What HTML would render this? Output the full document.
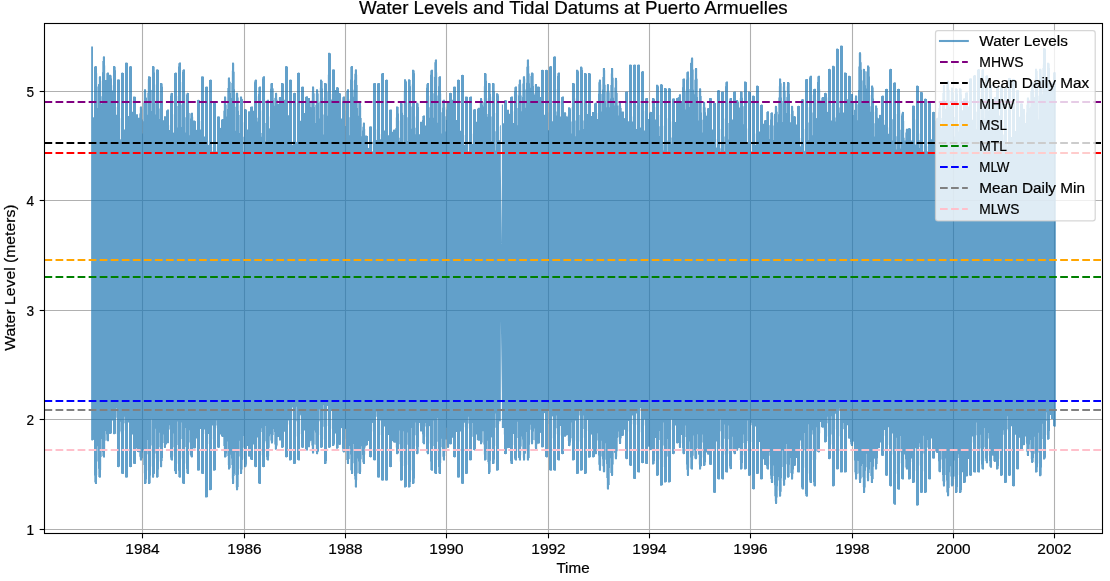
<!DOCTYPE html>
<html lang="en"><head><meta charset="utf-8"><title>Water Levels and Tidal Datums at Puerto Armuelles</title>
<style>
html,body{margin:0;padding:0;background:#fff;overflow:hidden}
svg{display:block;will-change:transform}
text{font-family:"Liberation Sans",sans-serif;fill:#000;stroke:#000;stroke-width:0.2px}
.t{font-size:14.75px}
.ti{font-size:17.7px}
</style></head>
<body>
<svg width="1110" height="581" viewBox="0 0 1110 581">
<rect x="0" y="0" width="1110" height="581" fill="#ffffff"/>
<g stroke="#b0b0b0" stroke-width="1.11" fill="none">
<line x1="142.5" y1="23.5" x2="142.5" y2="533.5"/><line x1="244.5" y1="23.5" x2="244.5" y2="533.5"/><line x1="345.5" y1="23.5" x2="345.5" y2="533.5"/><line x1="446.5" y1="23.5" x2="446.5" y2="533.5"/><line x1="548.5" y1="23.5" x2="548.5" y2="533.5"/><line x1="649.5" y1="23.5" x2="649.5" y2="533.5"/><line x1="750.5" y1="23.5" x2="750.5" y2="533.5"/><line x1="852.5" y1="23.5" x2="852.5" y2="533.5"/><line x1="953.5" y1="23.5" x2="953.5" y2="533.5"/><line x1="1054.5" y1="23.5" x2="1054.5" y2="533.5"/><line x1="44.5" y1="529.5" x2="1102.5" y2="529.5"/><line x1="44.5" y1="419.5" x2="1102.5" y2="419.5"/><line x1="44.5" y1="310.5" x2="1102.5" y2="310.5"/><line x1="44.5" y1="200.5" x2="1102.5" y2="200.5"/><line x1="44.5" y1="91.5" x2="1102.5" y2="91.5"/>
</g>
<g opacity="0.7" fill="#1f77b4" stroke="none">
<path fill-rule="nonzero" d="M91.13,46.6 93,46.6 93,117.0 93.17,117.0 93.17,117.2 93.69,117.2 93.69,117.4 94,117.4 94,66.4 94.17,66.4 94.17,66.6 94.69,66.6 94.69,66.8 95,66.8 95,66.1 96,66.1 96,66.1 96.17,66.1 96.17,66.2 96.69,66.2 96.69,66.3 97,66.3 97,73.2 97.17,73.2 97.17,86.6 97.69,86.6 97.69,108.0 98,108.0 98,76.9 98.17,76.9 98.17,83.9 98.69,83.9 98.69,84.2 99,84.2 99,76.2 101,76.3 101,80.7 101.17,80.7 101.17,96.2 101.69,96.2 101.69,103.9 102,103.9 102,57.1 102.17,57.1 102.17,61.0 102.69,61.0 102.69,72.3 103,72.3 103,56.3 105,56.4 105,65.6 105.17,65.6 105.17,80.0 105.69,80.0 105.69,80.1 106,80.1 106,73.1 106.17,73.1 106.17,73.3 106.69,73.3 106.69,80.0 107,80.0 107,72.6 108.69,72.6 108.69,72.7 109,72.7 109,74.8 109.69,74.8 109.69,74.9 110,74.9 110,74.8 111,74.8 111,75.2 111.17,75.2 111.17,75.5 111.69,75.5 111.69,78.6 112,78.6 112,85.2 112.17,85.2 112.17,90.5 113,90.5 113,66.1 113.69,66.1 113.69,66.2 114,66.2 114,66.1 115,66.1 115,66.6 115.17,66.6 115.17,66.8 115.69,66.8 115.69,70.2 116,70.2 116,106.9 116.17,106.9 116.17,114.8 117,114.8 117,79.4 117.17,79.4 117.17,79.5 117.69,79.5 117.69,79.6 118,79.6 118,79.3 119,79.3 119,79.5 119.17,79.5 119.17,79.6 119.69,79.6 119.69,79.7 120,79.7 120,118.3 120.17,118.3 120.17,139.1 120.69,139.1 120.69,140.3 121,140.3 121,72.7 121.17,72.7 121.17,72.8 121.69,72.8 121.69,72.9 122,72.9 122,72.6 123,72.6 123,72.8 123.17,72.8 123.17,72.9 123.69,72.9 123.69,73.1 124,73.1 124,129.5 125,129.6 125,62.6 125.17,62.6 125.17,62.7 125.69,62.7 125.69,62.8 126,62.8 126,62.5 127,62.5 127,62.7 127.17,62.7 127.17,62.8 127.69,62.8 127.69,62.9 128,62.9 128,115.9 129,115.9 129,66.3 129.17,66.3 129.17,66.4 129.69,66.4 129.69,66.6 130,66.6 130,66.1 131,66.1 131,66.2 131.17,66.2 131.17,66.3 131.69,66.3 131.69,66.4 132,66.4 132,111.7 133,111.7 133,96.6 133.17,96.6 133.17,96.6 133.69,96.6 133.69,96.7 134,96.7 134,96.4 135,96.4 135,96.6 135.17,96.6 135.17,96.7 135.69,96.7 135.69,96.9 136,96.9 136,114.2 138,114.3 138,117.7 139,117.7 139,107.1 139.17,107.1 139.17,113.6 139.69,113.6 139.69,117.8 140,117.8 140,106.4 142,106.4 142,109.6 142.17,109.6 142.17,119.4 142.69,119.4 142.69,133.4 143,133.4 143,91.7 143.17,91.7 143.17,102.8 143.69,102.8 143.69,121.2 144,121.2 144,89.2 145,89.3 145,89.2 146,89.2 146,90.0 146.17,90.0 146.17,97.5 146.69,97.5 146.69,97.8 147,97.8 147,79.1 147.17,79.1 147.17,92.7 147.69,92.7 147.69,114.7 148,114.7 148,76.2 148.69,76.3 148.69,76.3 149,76.3 149,76.2 150,76.2 150,76.6 150.17,76.6 150.17,76.7 150.69,76.7 150.69,77.0 151,77.0 151,89.7 151.17,89.7 151.17,90.0 151.69,90.0 151.69,111.0 152,111.0 152,66.1 152.69,66.1 152.69,66.2 153,66.2 153,66.1 154,66.1 154,66.6 154.17,66.6 154.17,66.8 154.69,66.8 154.69,72.4 155,72.4 155,84.4 155.17,84.4 155.17,103.3 155.69,103.3 155.69,114.5 156,114.5 156,69.4 156.17,69.4 156.17,69.5 156.69,69.5 156.69,69.5 157,69.5 157,69.3 158,69.3 158,69.6 158.17,69.6 158.17,69.8 158.69,69.8 158.69,70.1 159,70.1 159,92.2 159.17,92.2 159.17,108.6 159.69,108.6 159.69,119.1 160,119.1 160,82.9 160.69,82.9 160.69,83.0 161,83.0 161,82.9 162,82.9 162,83.4 162.17,83.4 162.17,83.6 162.69,83.6 162.69,86.8 163,86.8 163,120.3 164,120.3 164,116.2 164.69,116.2 164.69,116.3 165,116.3 165,116.2 166,116.2 166,109.9 166.17,109.9 166.17,110.2 166.69,110.2 166.69,110.7 167,110.7 167,109.4 168.69,109.5 168.69,109.6 169,109.6 169,125.2 169.17,125.2 169.17,130.1 170,130.1 170,93.3 170.17,93.3 170.17,93.6 170.69,93.6 170.69,95.8 171,95.8 171,92.8 172.69,92.9 172.69,92.9 173,92.9 173,114.2 173.17,114.2 173.17,132.5 173.69,132.5 173.69,132.8 174,132.8 174,72.9 174.17,72.9 174.17,73.1 174.69,73.1 174.69,73.3 175,73.3 175,72.6 176,72.6 176,72.6 176.17,72.6 176.17,72.7 176.69,72.7 176.69,72.8 177,72.8 177,96.0 177.17,96.0 177.17,106.1 177.69,106.1 177.69,127.6 178,127.6 178,62.9 178.17,62.9 178.17,63.2 178.69,63.2 178.69,66.5 179,66.5 179,62.5 180.69,62.5 180.69,62.6 181,62.6 181,81.9 181.17,81.9 181.17,104.4 181.69,104.4 181.69,127.1 182,127.1 182,69.8 182.17,69.8 182.17,70.1 182.69,70.1 182.69,71.7 183,71.7 183,69.3 184.69,69.4 184.69,69.5 185,69.5 185,93.3 185.17,93.3 185.17,117.3 185.69,117.3 185.69,132.4 186,132.4 186,93.3 186.17,93.3 186.17,93.6 186.69,93.6 186.69,94.8 187,94.8 187,92.8 188.69,92.9 188.69,92.9 189,92.9 189,112.8 189.17,112.8 189.17,113.1 189.69,113.1 189.69,135.2 190,135.2 190,113.2 190.17,113.2 190.17,113.4 190.69,113.4 190.69,118.5 191,118.5 191,112.7 192.69,112.8 192.69,112.8 193,112.8 193,116.7 193.17,116.7 193.17,120.5 193.69,120.5 193.69,120.6 194,120.6 194,120.4 195,120.5 195,120.8 195.17,120.8 195.17,120.9 195.69,120.9 195.69,121.2 196,121.2 196,129.8 197,129.9 197,99.8 197.17,99.8 197.17,99.9 197.69,99.9 197.69,100.0 198,100.0 198,99.7 199,99.7 199,99.9 199.17,99.9 199.17,100.0 199.69,100.0 199.69,100.2 200,100.2 200,121.1 200.17,121.1 200.17,129.4 201,129.4 201,76.3 201.17,76.3 201.17,76.4 201.69,76.4 201.69,76.5 202,76.5 202,76.2 203,76.2 203,76.4 203.17,76.4 203.17,76.5 203.69,76.5 203.69,76.7 204,76.7 204,136.5 205,136.5 205,86.7 205.17,86.7 205.17,86.8 205.69,86.8 205.69,87.0 206,87.0 206,86.5 207,86.5 207,86.6 207.17,86.6 207.17,86.7 207.69,86.7 207.69,86.8 208,86.8 208,140.5 208.17,140.5 208.17,145.0 209,145.0 209,79.8 209.17,79.8 209.17,79.9 209.69,79.9 209.69,80.1 210,80.1 210,79.6 211,79.6 211,79.8 211.17,79.8 211.17,79.8 211.69,79.8 211.69,79.9 212,79.9 212,147.1 212.17,147.1 212.17,151.5 213,151.5 213,102.9 213.17,102.9 213.17,103.0 213.69,103.0 213.69,103.1 214,103.1 214,102.8 215,102.8 215,103.0 215.17,103.0 215.17,103.1 215.69,103.1 215.69,103.2 216,103.2 216,145.5 216.17,145.5 216.17,151.5 217,151.5 217,116.4 217.17,116.4 217.17,116.5 217.69,116.5 217.69,116.6 218,116.6 218,116.3 219,116.3 219,116.5 219.17,116.5 219.17,116.6 219.69,116.6 219.69,116.8 220,116.8 220,127.8 221,127.9 221,119.3 221.17,119.3 221.17,119.4 221.69,119.4 221.69,119.7 222,119.7 222,119.0 223,119.0 223,100.7 223.17,100.7 223.17,110.7 223.69,110.7 223.69,119.0 224,119.0 224,96.4 225,96.5 225,96.4 226,96.5 226,97.2 226.17,97.2 226.17,104.7 226.69,104.7 226.69,116.4 227,116.4 227,78.2 227.17,78.2 227.17,88.0 227.69,88.0 227.69,109.1 228,109.1 228,77.5 230,77.5 230,81.5 230.17,81.5 230.17,81.8 230.69,81.8 230.69,93.1 231,93.1 231,70.7 231.17,70.7 231.17,83.0 231.69,83.0 231.69,98.1 232,98.1 232,62.6 233,62.7 233,62.6 234,62.7 234,63.4 234.17,63.4 234.17,71.8 234.69,71.8 234.69,89.3 235,89.3 235,93.6 235.17,93.6 235.17,106.7 235.69,106.7 235.69,130.8 236,130.8 236,92.8 238,92.8 238,93.6 238.17,93.6 238.17,97.4 238.69,97.4 238.69,110.8 239,110.8 239,105.2 239.17,105.2 239.17,114.9 239.69,114.9 239.69,133.1 240,133.1 240,96.4 241,96.5 241,96.4 242,96.5 242,97.2 242.17,97.2 242.17,98.9 242.69,98.9 242.69,99.2 243,99.2 243,122.3 243.17,122.3 243.17,136.7 243.69,136.7 243.69,151.5 244,151.5 244,109.1 244.17,109.1 244.17,109.2 244.69,109.2 244.69,109.3 245,109.3 245,109.1 246,109.1 246,109.4 246.17,109.4 246.17,109.6 246.69,109.6 246.69,109.8 247,109.8 247,129.4 248,129.4 248,111.3 248.17,111.3 248.17,111.3 248.69,111.3 248.69,111.4 249,111.4 249,111.2 250,111.2 250,106.7 250.17,106.7 250.17,106.8 250.69,106.8 250.69,107.1 251,107.1 251,106.4 252,106.4 252,106.4 252.17,106.4 252.17,106.5 252.69,106.5 252.69,106.6 253,106.6 253,110.8 254,110.8 254,80.1 254.17,80.1 254.17,80.4 254.69,80.4 254.69,82.2 255,82.2 255,79.6 256.69,79.7 256.69,79.8 257,79.8 257,96.2 257.17,96.2 257.17,117.8 257.69,117.8 257.69,121.4 258,121.4 258,87.0 258.17,87.0 258.17,87.2 258.69,87.2 258.69,93.9 259,93.9 259,86.5 260.69,86.6 260.69,86.6 261,86.6 261,110.4 261.17,110.4 261.17,132.9 261.69,132.9 261.69,136.7 262,136.7 262,76.7 262.17,76.7 262.17,76.9 262.69,76.9 262.69,78.6 263,78.6 263,76.2 264.69,76.3 264.69,76.3 265,76.3 265,103.0 265.17,103.0 265.17,122.9 265.69,122.9 265.69,141.6 266,141.6 266,100.2 266.17,100.2 266.17,100.4 266.69,100.4 266.69,101.5 267,101.5 267,99.7 268.69,99.7 268.69,99.8 269,99.8 269,116.6 269.17,116.6 269.17,128.3 269.69,128.3 269.69,128.6 270,128.6 270,83.4 270.17,83.4 270.17,83.6 270.69,83.6 270.69,88.7 271,88.7 271,82.9 272.69,82.9 272.69,83.0 273,83.0 273,88.1 273.17,88.1 273.17,88.4 273.69,88.4 273.69,100.3 274,100.3 274,97.6 274.17,97.6 274.17,97.9 274.69,97.9 274.69,105.7 275,105.7 275,92.8 276,92.9 276,92.8 277,92.8 277,93.6 277.17,93.6 277.17,99.8 277.69,99.8 277.69,104.1 278,104.1 278,97.7 278.17,97.7 278.17,104.0 279,104.0 279,97.0 281,97.1 281,82.9 281.17,82.9 281.17,83.0 281.69,83.0 281.69,83.1 282,83.1 282,82.9 283,82.9 283,83.2 283.17,83.2 283.17,83.4 283.69,83.4 283.69,83.6 284,83.6 284,99.7 285,99.8 285,66.1 285.17,66.1 285.17,66.2 285.69,66.2 285.69,66.3 286,66.3 286,66.1 287,66.1 287,66.4 287.17,66.4 287.17,66.6 287.69,66.6 287.69,66.8 288,66.8 288,115.2 288.69,115.3 288.69,115.3 289,115.3 289,79.7 289.17,79.7 289.17,79.8 289.69,79.8 289.69,79.9 290,79.9 290,79.6 291,79.6 291,79.8 291.17,79.8 291.17,79.8 291.69,79.8 291.69,79.9 292,79.9 292,141.0 292.17,141.0 292.17,144.9 293,144.9 293,93.0 293.17,93.0 293.17,93.1 293.69,93.1 293.69,93.3 294,93.3 294,92.8 295,92.8 295,92.9 295.17,92.9 295.17,93.0 295.69,93.0 295.69,93.1 296,93.1 296,140.6 296.17,140.6 296.17,141.9 297,141.9 297,72.8 297.17,72.8 297.17,72.9 297.69,72.9 297.69,73.1 298,73.1 298,72.6 299,72.6 299,72.7 299.17,72.7 299.17,72.8 299.69,72.8 299.69,72.9 300,72.9 300,120.7 301,120.8 301,86.7 301.17,86.7 301.17,86.8 301.69,86.8 301.69,87.0 302,87.0 302,86.5 303,86.5 303,86.6 303.17,86.6 303.17,86.7 303.69,86.7 303.69,86.8 304,86.8 304,112.9 305,113.0 305,96.5 305.17,96.5 305.17,96.7 305.69,96.7 305.69,96.9 306,96.9 306,96.2 307,96.2 307,96.3 307.17,96.3 307.17,96.3 307.69,96.3 307.69,96.4 308,96.4 308,97.9 310,98.0 310,100.1 310.17,100.1 310.17,101.2 310.69,101.2 310.69,107.1 311,107.1 311,92.2 311.17,92.2 311.17,100.4 311.69,100.4 311.69,107.2 312,107.2 312,86.5 313,86.6 313,86.5 314,86.5 314,87.2 314.17,87.2 314.17,93.2 314.69,93.2 314.69,106.9 315,106.9 315,93.5 315.17,93.5 315.17,104.9 315.69,104.9 315.69,122.9 316,122.9 316,89.2 317,89.3 317,89.2 318,89.2 318,90.0 318.17,90.0 318.17,93.5 318.69,93.5 318.69,103.1 319,103.1 319,87.8 319.17,87.8 319.17,101.4 319.69,101.4 319.69,118.6 320,118.6 320,79.6 321,79.7 321,79.6 322,79.7 322,80.4 322.17,80.4 322.17,81.0 322.69,81.0 322.69,88.6 323,88.6 323,97.6 323.17,97.6 323.17,114.4 323.69,114.4 323.69,134.6 324,134.6 324,82.9 324.17,82.9 324.17,83.0 324.69,83.0 324.69,83.1 325,83.1 325,82.9 326,82.9 326,83.2 326.17,83.2 326.17,83.4 326.69,83.4 326.69,83.6 327,83.6 327,74.8 327.17,74.8 327.17,91.9 327.69,91.9 327.69,115.7 328,115.7 328,52.8 328.17,52.8 328.17,52.8 328.69,52.8 328.69,52.9 329,52.9 329,52.7 330,52.7 330,53.0 330.17,53.0 330.17,53.2 330.69,53.2 330.69,53.5 331,53.5 331,93.9 331.17,93.9 331.17,99.5 332,99.5 332,69.5 332.17,69.5 332.17,69.5 332.69,69.5 332.69,69.6 333,69.6 333,69.3 334,69.3 334,69.5 334.17,69.5 334.17,69.6 334.69,69.6 334.69,69.8 335,69.8 335,90.0 336,90.0 336,87.2 336.17,87.2 336.17,87.2 336.69,87.2 336.69,87.3 337,87.3 337,87.1 338,87.1 338,87.4 338.17,87.4 338.17,87.6 338.69,87.6 338.69,87.9 339,87.9 339,93.1 340,93.1 340,93.2 340.17,93.2 340.17,93.3 340.69,93.3 340.69,93.4 341,93.4 341,118.6 342,118.6 342,96.9 342.17,96.9 342.17,97.2 342.69,97.2 342.69,102.1 343,102.1 343,96.4 344.69,96.5 344.69,96.6 345,96.6 345,110.5 345.17,110.5 345.17,125.9 345.69,125.9 345.69,143.3 346,143.3 346,90.0 346.17,90.0 346.17,90.9 346.69,90.9 346.69,101.7 347,101.7 347,89.2 349,89.3 349,99.0 349.17,99.0 349.17,117.2 349.69,117.2 349.69,135.2 350,135.2 350,66.6 350.17,66.6 350.17,66.8 350.69,66.8 350.69,79.5 351,79.5 351,66.1 352.69,66.1 352.69,66.2 353,66.2 353,80.8 353.17,80.8 353.17,89.7 353.69,89.7 353.69,96.7 354,96.7 354,70.1 354.17,70.1 354.17,73.7 354.69,73.7 354.69,79.7 355,79.7 355,69.3 357,69.4 357,74.7 357.17,74.7 357.17,85.0 357.69,85.0 357.69,107.9 358,107.9 358,101.7 358.17,101.7 358.17,102.0 358.69,102.0 358.69,115.7 359,115.7 359,100.9 361,101.0 361,105.8 361.17,105.8 361.17,118.0 361.69,118.0 361.69,136.3 362,136.3 362,123.4 362.17,123.4 362.17,126.7 362.69,126.7 362.69,130.4 363,130.4 363,122.6 365,122.7 365,128.9 365.17,128.9 365.17,135.4 365.69,135.4 365.69,135.5 366,135.5 366,135.4 367,135.4 367,135.7 367.17,135.7 367.17,135.9 367.69,135.9 367.69,136.1 368,136.1 368,147.9 369,147.9 369,126.4 369.17,126.4 369.17,126.6 369.69,126.6 369.69,126.7 370,126.7 370,126.2 371,126.2 371,126.4 371.17,126.4 371.17,126.4 371.69,126.4 371.69,126.6 372,126.6 372,141.2 372.17,141.2 372.17,151.5 373,151.5 373,83.1 373.17,83.1 373.17,83.2 373.69,83.2 373.69,83.4 374,83.4 374,82.9 375,82.9 375,83.0 375.17,83.0 375.17,83.1 375.69,83.1 375.69,83.2 376,83.2 376,129.6 376.17,129.6 376.17,140.0 377,140.0 377,83.1 377.17,83.1 377.17,83.2 377.69,83.2 377.69,83.4 378,83.4 378,82.9 379,82.9 379,83.0 379.17,83.0 379.17,83.1 379.69,83.1 379.69,83.2 380,83.2 380,134.3 380.17,134.3 380.17,139.2 381,139.2 381,73.3 381.17,73.3 381.17,73.4 381.69,73.4 381.69,73.7 382,73.7 382,72.9 383,72.9 383,73.0 383.17,73.0 383.17,73.1 383.69,73.1 383.69,73.1 384,73.1 384,130.4 385,130.4 385,79.8 385.17,79.8 385.17,79.9 385.69,79.9 385.69,80.1 386,80.1 386,79.6 387,79.6 387,79.8 387.17,79.8 387.17,79.8 387.69,79.8 387.69,79.9 388,79.9 388,135.3 389,135.3 389,109.6 389.17,109.6 389.17,109.8 389.69,109.8 389.69,109.9 390,109.9 390,109.4 391,109.4 391,109.6 391.17,109.6 391.17,109.6 391.69,109.6 391.69,109.8 392,109.8 392,131.7 393,131.7 393,129.6 393.17,129.6 393.17,129.7 393.69,129.7 393.69,129.8 394,129.8 394,129.4 395,129.4 395,117.4 395.17,117.4 395.17,128.0 395.69,128.0 395.69,129.5 396,129.5 396,106.4 396.69,106.4 396.69,106.5 397,106.5 397,106.4 398,106.4 398,106.8 398.17,106.8 398.17,107.1 398.69,107.1 398.69,113.6 399,113.6 399,120.4 399.17,120.4 399.17,137.7 399.69,137.7 399.69,141.0 400,141.0 400,102.8 400.69,102.8 400.69,102.9 401,102.9 401,102.8 402,102.8 402,103.2 402.17,103.2 402.17,103.5 402.69,103.5 402.69,112.8 403,112.8 403,91.5 403.17,91.5 403.17,115.0 403.69,115.0 403.69,143.9 404,143.9 404,79.3 405,79.3 405,79.3 406,79.3 406,80.0 406.17,80.0 406.17,81.3 406.69,81.3 406.69,81.5 407,81.5 407,102.2 407.17,102.2 407.17,117.3 407.69,117.3 407.69,141.1 408,141.1 408,79.3 408.69,79.3 408.69,79.4 409,79.4 409,79.3 410,79.3 410,79.7 410.17,79.7 410.17,80.0 410.69,80.0 410.69,86.3 411,86.3 411,84.6 411.17,84.6 411.17,106.6 411.69,106.6 411.69,128.8 412,128.8 412,69.7 412.69,69.8 412.69,69.8 413,69.8 413,69.7 414,69.7 414,70.2 414.17,70.2 414.17,70.4 414.69,70.4 414.69,73.3 415,73.3 415,116.6 415.17,116.6 415.17,127.7 415.69,127.7 415.69,134.2 416,134.2 416,102.8 416.69,102.8 416.69,102.9 417,102.9 417,102.8 418,102.8 418,103.2 418.17,103.2 418.17,103.5 418.69,103.5 418.69,107.0 419,107.0 419,134.2 420,134.2 420,121.7 420.17,121.7 420.17,121.8 420.69,121.8 420.69,121.9 421,121.9 421,121.7 422,121.7 422,115.9 422.17,115.9 422.17,116.1 422.69,116.1 422.69,120.1 423,120.1 423,115.4 424.69,115.5 424.69,115.5 425,115.5 425,125.4 426,125.4 426,83.6 426.17,83.6 426.17,84.3 426.69,84.3 426.69,87.8 427,87.8 427,82.9 429,82.9 429,95.7 429.17,95.7 429.17,107.3 429.69,107.3 429.69,117.8 430,117.8 430,70.2 430.17,70.2 430.17,70.4 430.69,70.4 430.69,74.8 431,74.8 431,69.7 432.69,69.8 432.69,69.8 433,69.8 433,76.5 433.17,76.5 433.17,93.2 433.69,93.2 433.69,117.7 434,117.7 434,60.1 434.17,60.1 434.17,62.3 434.69,62.3 434.69,77.0 435,77.0 435,59.4 437,59.5 437,72.5 437.17,72.5 437.17,95.4 437.69,95.4 437.69,122.8 438,122.8 438,76.7 438.17,76.7 438.17,76.9 438.69,76.9 438.69,86.2 439,86.2 439,76.2 440.69,76.3 440.69,76.3 441,76.3 441,93.6 441.17,93.6 441.17,112.2 441.69,112.2 441.69,133.4 442,133.4 442,100.2 442.17,100.2 442.17,100.4 442.69,100.4 442.69,107.7 443,107.7 443,99.7 444.69,99.7 444.69,99.8 445,99.8 445,107.3 445.17,107.3 445.17,116.3 445.69,116.3 445.69,131.4 446,131.4 446,106.6 446.17,106.6 446.17,109.6 446.69,109.6 446.69,119.9 447,119.9 447,101.6 448,101.6 448,101.6 449,101.6 449,92.9 449.17,92.9 449.17,93.0 449.69,93.0 449.69,93.1 450,93.1 450,92.8 451,92.8 451,93.0 451.17,93.0 451.17,93.1 451.69,93.1 451.69,93.3 452,93.3 452,99.8 453,99.8 453,86.7 453.17,86.7 453.17,86.8 453.69,86.8 453.69,86.8 454,86.8 454,86.5 455,86.5 455,86.6 455.17,86.6 455.17,86.7 455.69,86.7 455.69,86.8 456,86.8 456,120.0 457,120.0 457,79.8 457.17,79.8 457.17,79.8 457.69,79.8 457.69,79.9 458,79.9 458,79.6 459,79.6 459,79.8 459.17,79.8 459.17,79.9 459.69,79.9 459.69,80.1 460,80.1 460,130.8 461,130.8 461,74.9 461.17,74.9 461.17,75.0 461.69,75.0 461.69,75.1 462,75.1 462,74.7 463,74.8 463,75.0 463.17,75.0 463.17,75.1 463.69,75.1 463.69,75.2 464,75.2 464,134.9 464.17,134.9 464.17,145.1 465,145.1 465,96.6 465.17,96.6 465.17,96.6 465.69,96.6 465.69,96.7 466,96.7 466,96.4 467,96.4 467,96.6 467.17,96.6 467.17,96.7 467.69,96.7 467.69,96.9 468,96.9 468,141.3 468.17,141.3 468.17,151.5 469,151.5 469,96.7 469.17,96.7 469.17,96.9 469.69,96.9 469.69,97.2 470,97.2 470,96.4 471,96.4 471,96.5 471.17,96.5 471.17,96.6 471.69,96.6 471.69,96.6 472,96.6 472,133.8 472.17,133.8 472.17,143.9 473,143.9 473,109.4 473.17,109.4 473.17,109.6 473.69,109.6 473.69,109.8 474,109.8 474,109.1 475,109.1 475,109.1 475.17,109.1 475.17,109.2 475.69,109.2 475.69,109.3 476,109.3 476,121.7 477,121.7 477,108.2 477.17,108.2 477.17,108.5 477.69,108.5 477.69,109.1 478,109.1 478,107.7 479,107.8 479,102.4 479.17,102.4 479.17,107.8 480,107.8 480,98.1 481,98.2 481,98.1 482,98.1 482,98.9 482.17,98.9 482.17,101.1 482.69,101.1 482.69,104.8 483,104.8 483,86.3 483.17,86.3 483.17,102.2 483.69,102.2 483.69,106.5 484,106.5 484,73.0 484.69,73.0 484.69,73.1 485,73.1 485,72.9 486,72.9 486,73.4 486.17,73.4 486.17,73.7 486.69,73.7 486.69,80.7 487,80.7 487,98.2 487.17,98.2 487.17,114.0 487.69,114.0 487.69,116.7 488,116.7 488,82.9 488.69,82.9 488.69,83.0 489,83.0 489,82.9 490,82.9 490,83.4 490.17,83.4 490.17,83.6 490.69,83.6 490.69,93.9 491,93.9 491,96.8 491.17,96.8 491.17,116.5 491.69,116.5 491.69,141.1 492,141.1 492,82.9 492.69,82.9 492.69,83.0 493,83.0 493,82.9 494,82.9 494,83.4 494.17,83.4 494.17,83.6 494.69,83.6 494.69,91.6 495,91.6 495,113.0 495.17,113.0 495.17,131.2 495.69,131.2 495.69,150.6 496,150.6 496,93.2 496.69,93.2 496.69,93.3 497,93.3 497,93.2 498,93.2 498,93.7 498.17,93.7 498.17,93.9 498.69,93.9 498.69,95.6 499,95.6 499,126.4 499.17,126.4 499.17,140.3 500,140.3 500,125.2 500.84,125.2 500.84,421.2 499.17,421.2 499.17,423.9 499,423.9 499,470.1 498.69,470.1 498.69,470.3 498.17,470.3 498.17,470.5 498,470.5 498,470.8 497,470.8 497,470.6 496.69,470.6 496.69,470.7 496.17,470.7 496.17,470.8 496,470.8 496,413.4 495.69,413.4 495.69,427.8 495.17,427.8 495.17,445.9 495,445.9 495,459.4 494.69,459.4 494.69,463.4 494.17,463.4 494.17,463.7 494,463.7 494,464.1 493,464.1 493,464.0 492.69,464.0 492.69,464.1 492,464.1 492,437.3 491.69,437.3 491.69,437.6 491.17,437.6 491.17,451.9 491,451.9 491,460.8 490.69,460.8 490.69,472.2 490.17,472.2 490.17,473.3 490,473.3 490,474.0 489,474.1 489,474.0 488,474.1 488,440.7 487.69,440.7 487.69,462.1 487.17,462.1 487.17,464.1 487,464.1 487,451.6 486.69,451.6 486.69,459.8 486.17,459.8 486.17,460.0 486,460.0 486,460.5 485,460.5 485,460.4 484.69,460.4 484.69,460.5 484,460.5 484,431.3 483.69,431.3 483.69,444.4 483.17,444.4 483.17,454.5 483,454.5 483,431.3 482.69,431.3 482.69,442.4 482.17,442.4 482.17,443.5 482,443.5 482,444.2 481,444.3 481,444.2 480,444.3 480,440.7 479.69,440.7 479.69,440.7 479.17,440.7 479.17,440.8 478,440.8 478,440.0 477.69,440.0 477.69,440.3 477.17,440.3 477.17,440.5 477,440.5 477,434.4 476.17,434.4 476.17,440.3 476,440.3 476,450.4 475.69,450.4 475.69,450.5 475.17,450.5 475.17,450.5 475,450.5 475,450.6 474,450.6 474,449.8 473.69,449.8 473.69,450.1 473.17,450.1 473.17,450.3 473,450.3 473,422.9 472.69,422.9 472.69,436.7 472.17,436.7 472.17,437.0 472,437.0 472,460.0 471.69,460.0 471.69,460.2 471.17,460.2 471.17,460.3 471,460.3 471,460.5 470,460.5 470,460.2 469.69,460.2 469.69,460.3 469.17,460.3 469.17,460.4 469,460.4 469,416.7 468.69,416.7 468.69,423.4 468.17,423.4 468.17,428.6 468,428.6 468,473.6 467.69,473.6 467.69,473.8 467.17,473.8 467.17,473.9 467,473.9 467,474.1 466,474.1 466,473.8 465.69,473.8 465.69,473.9 465.17,473.9 465.17,473.9 465,473.9 465,422.7 464.17,422.7 464.17,427.3 464,427.3 464,483.7 463.69,483.7 463.69,483.8 463.17,483.8 463.17,483.9 463,483.9 463,484.0 462,484.0 462,483.5 461.69,483.5 461.69,483.7 461.17,483.7 461.17,483.8 461,483.8 461,431.5 460,431.6 460,477.2 459.69,477.2 459.69,477.4 459.17,477.4 459.17,477.5 459,477.5 459,477.7 458,477.7 458,477.4 457.69,477.4 457.69,477.5 457.17,477.5 457.17,477.6 457,477.6 457,432.0 456,432.0 456,457.1 455.69,457.1 455.69,457.2 455.17,457.2 455.17,457.3 455,457.3 455,457.4 454,457.5 454,457.0 453.69,457.0 453.69,457.1 453.17,457.1 453.17,457.2 453,457.2 453,437.8 452,437.8 452,444.1 451.69,444.1 451.69,444.2 451.17,444.2 451.17,444.3 451,444.3 451,444.4 450,444.5 450,444.1 449.69,444.1 449.69,444.2 449.17,444.2 449.17,447.1 449,447.1 449,447.8 448,447.9 448,447.8 447,447.9 447,427.7 446.69,427.7 446.69,439.6 446.17,439.6 446.17,445.4 446,445.4 446,439.5 445.69,439.5 445.69,451.5 445.17,451.5 445.17,456.1 445,456.1 445,460.5 444,460.5 443,460.5 443,449.8 442.69,449.8 442.69,456.7 442.17,456.7 442.17,459.8 442,459.8 442,438.7 441.69,438.7 441.69,447.2 441.17,447.2 441.17,463.1 441,463.1 441,473.9 440.69,473.9 440.69,474.0 439.69,474.1 439,474.1 439,467.1 438.69,467.1 438.69,473.3 438.17,473.3 438.17,473.6 438,473.6 438,418.0 437.69,418.0 437.69,441.8 437.17,441.8 437.17,460.0 437,460.0 437,474.0 436,474.1 435,474.1 435,473.1 434.69,473.1 434.69,473.4 434.17,473.4 434.17,473.6 434,473.6 434,420.4 433.69,420.4 433.69,445.9 433.17,445.9 433.17,450.7 433,450.7 433,470.7 432.69,470.7 432.69,470.8 431.69,470.8 431,470.8 431,461.4 430.69,461.4 430.69,470.1 430.17,470.1 430.17,470.3 430,470.3 430,425.9 429.69,425.9 429.69,426.2 429.17,426.2 429.17,443.4 429,443.4 429,454.1 428,454.2 427,454.2 427,449.0 426.69,449.0 426.69,452.8 426.17,452.8 426.17,453.5 426,453.5 426,422.9 425.69,422.9 425.69,426.4 425.17,426.4 425.17,436.7 425,436.7 425,444.2 424,444.3 423,444.3 423,434.2 422.69,434.2 422.69,442.9 422.17,442.9 422.17,443.5 422,443.5 422,431.4 421,431.4 421,431.3 420.69,431.3 420.69,431.4 420,431.4 420,423.1 419.17,423.1 419.17,425.5 419,425.5 419,447.0 418.69,447.0 418.69,453.5 418.17,453.5 418.17,453.7 418,453.7 418,454.2 417,454.2 417,454.1 416.69,454.1 416.69,454.1 416,454.2 416,422.4 415.69,422.4 415.69,435.2 415.17,435.2 415.17,446.3 415,446.3 415,478.5 414.69,478.5 414.69,483.3 414.17,483.3 414.17,483.5 414,483.5 414,484.0 413,484.0 413,483.9 412.69,483.9 412.69,483.9 412,484.0 412,427.9 411.69,427.9 411.69,451.6 411.17,451.6 411.17,470.3 411,470.3 411,481.9 410.69,481.9 410.69,486.9 410.17,486.9 410.17,487.1 410,487.1 410,487.6 409,487.6 409,487.5 408.69,487.5 408.69,487.6 408,487.6 408,432.5 407.69,432.5 407.69,444.8 407.17,444.8 407.17,464.7 407,464.7 407,486.7 406.69,486.7 406.69,487.0 406.17,487.0 406.17,487.1 406,487.1 406,487.6 405,487.6 405,487.5 404.69,487.5 404.69,487.6 404,487.6 404,431.3 403.69,431.3 403.69,448.5 403.17,448.5 403.17,466.1 403,466.1 403,480.0 402.69,480.0 402.69,480.3 402.17,480.3 402.17,480.4 402,480.4 402,480.8 401,480.8 401,480.6 400.69,480.6 400.69,480.6 400.17,480.6 400.17,480.7 400,480.7 400,430.4 399.69,430.4 399.69,444.2 399.17,444.2 399.17,461.5 399,461.5 399,453.3 398.69,453.3 398.69,453.5 398.17,453.5 398.17,453.7 398,453.7 398,454.2 397,454.2 397,454.1 396,454.2 396,442.7 395.69,442.7 395.69,442.8 395.17,442.8 395.17,447.4 395,447.4 395,442.8 394,442.8 394,442.1 393.69,442.1 393.69,442.4 393.17,442.4 393.17,442.5 393,442.5 393,441.1 392,441.2 392,466.9 391.69,466.9 391.69,467.0 391.17,467.0 391.17,467.1 391,467.1 391,467.2 390,467.2 390,466.7 389.69,466.7 389.69,466.9 389.17,466.9 389.17,467.0 389,467.0 389,435.0 388,435.0 388,480.3 387.69,480.3 387.69,480.4 387.17,480.4 387.17,480.6 387,480.6 387,480.8 386,480.8 386,480.4 385.69,480.4 385.69,480.6 385.17,480.6 385.17,480.6 385,480.6 385,426.4 384,426.4 384,480.4 383.69,480.4 383.69,480.6 383.17,480.6 383.17,480.6 383,480.6 383,480.8 382,480.8 382,480.3 381.69,480.3 381.69,480.4 381.17,480.4 381.17,480.6 381,480.6 381,420.4 380.17,420.5 380.17,435.0 380,435.0 380,477.4 379.69,477.4 379.69,477.5 379.17,477.5 379.17,477.6 379,477.6 379,477.7 378,477.7 378,477.2 377.69,477.2 377.69,477.4 377.17,477.4 377.17,477.5 377,477.5 377,411.5 376.69,411.5 376.69,416.7 376.17,416.7 376.17,417.0 376,417.0 376,460.2 375.69,460.2 375.69,460.3 375.17,460.3 375.17,460.4 375,460.4 375,460.5 374,460.5 374,460.0 373.69,460.0 373.69,460.2 373.17,460.2 373.17,460.3 373,460.3 373,422.7 372.69,422.7 372.69,423.0 372.17,423.0 372.17,431.6 372,431.6 372,457.1 371.69,457.1 371.69,457.2 371.17,457.2 371.17,457.3 371,457.3 371,457.4 370,457.5 370,457.0 369.69,457.0 369.69,457.1 369.17,457.1 369.17,457.2 369,457.2 369,441.0 368.69,441.0 368.69,441.0 368,441.1 368,445.1 367.69,445.1 367.69,445.3 367.17,445.3 367.17,445.5 367,445.5 367,445.8 366,445.8 366,445.7 365.69,445.7 365.69,447.6 365.17,447.6 365.17,454.5 365,454.5 365,464.1 364,464.1 363,464.1 363,454.9 362.69,454.9 362.69,462.2 362.17,462.2 362.17,463.4 362,463.4 362,446.2 361.69,446.2 361.69,459.3 361.17,459.3 361.17,471.7 361,471.7 361,473.9 360.69,473.9 360.69,474.0 359.69,474.1 359,474.1 359,461.6 358.69,461.6 358.69,473.3 358.17,473.3 358.17,473.6 358,473.6 358,458.5 357.69,458.5 357.69,473.5 357.17,473.5 357.17,480.2 357,480.2 357,487.6 356,487.6 355,487.6 355,476.1 354.69,476.1 354.69,479.4 354.17,479.4 354.17,486.9 354,486.9 354,444.1 353.69,444.1 353.69,463.2 353.17,463.2 353.17,473.3 353,473.3 353,474.0 352,474.1 352,474.0 351,474.1 351,454.6 350.69,454.6 350.69,470.3 350.17,470.3 350.17,470.6 350,470.6 350,445.9 349.69,445.9 349.69,459.0 349.17,459.0 349.17,459.2 349,459.2 349,464.1 348,464.1 347,464.1 347,451.3 346.69,451.3 346.69,460.1 346.17,460.1 346.17,463.4 346,463.4 346,428.8 345.69,428.8 345.69,429.1 345.17,429.1 345.17,438.7 345,438.7 345,452.3 344.69,452.3 344.69,452.3 343.69,452.4 343,452.4 343,448.5 342.69,448.5 342.69,451.6 342.17,451.6 342.17,451.9 342,451.9 342,428.1 341,428.2 341,444.7 340.69,444.7 340.69,444.7 340.17,444.7 340.17,444.8 340,444.8 340,444.9 339,444.9 339,444.6 338.69,444.6 338.69,448.0 338.17,448.0 338.17,448.3 338,448.3 338,448.8 337,448.8 337,448.7 336.69,448.7 336.69,448.7 336,448.8 336,433.4 335.17,433.4 335.17,433.8 335,433.8 335,443.7 334.69,443.7 334.69,445.3 334.17,445.3 334.17,445.6 334,445.6 334,446.1 333,446.1 333,445.9 332.69,445.9 332.69,446.0 332,446.0 332,411.0 331.17,411.0 331.17,428.8 331,428.8 331,447.1 330.69,447.1 330.69,447.4 330.17,447.4 330.17,447.6 330,447.6 330,447.9 329,447.9 329,447.7 328.69,447.7 328.69,447.7 328.17,447.7 328.17,447.8 328,447.8 328,406.1 327.17,406.1 327.17,426.1 327,426.1 327,461.1 326.69,461.1 326.69,463.4 326.17,463.4 326.17,463.7 326,463.7 326,464.1 325,464.1 325,464.0 324.69,464.0 324.69,464.1 324,464.1 324,405.0 323.69,405.0 323.69,426.7 323.17,426.7 323.17,439.5 323,439.5 323,447.1 322.69,447.1 322.69,447.4 322.17,447.4 322.17,447.6 322,447.6 322,447.9 321,447.9 321,447.7 320.69,447.7 320.69,447.7 320.17,447.7 320.17,447.8 320,447.8 320,409.5 319.69,409.5 319.69,421.3 319.17,421.3 319.17,435.0 319,435.0 319,451.5 318.69,451.5 318.69,451.8 318.17,451.8 318.17,453.5 318,453.5 318,454.2 317,454.2 317,454.1 316,454.2 316,432.5 315.69,432.5 315.69,444.8 315.17,444.8 315.17,451.9 315,451.9 315,430.6 314.69,430.6 314.69,444.5 314.17,444.5 314.17,452.7 314,452.7 314,453.4 313,453.5 313,453.4 312,453.5 312,440.8 311.69,440.8 311.69,445.6 311.17,445.6 311.17,451.5 311,451.5 311,440.8 310.69,440.8 310.69,441.2 310.17,441.2 310.17,442.9 310,442.9 310,447.2 309,447.3 308,447.3 308,450.4 307.69,450.4 307.69,450.5 307.17,450.5 307.17,450.5 307,450.5 307,450.6 306,450.6 306,449.8 305.69,449.8 305.69,450.1 305.17,450.1 305.17,450.3 305,450.3 305,430.5 304,430.6 304,447.6 303.69,447.6 303.69,447.7 303.17,447.7 303.17,447.7 303,447.7 303,447.9 302,447.9 302,447.4 301.69,447.4 301.69,447.6 301.17,447.6 301.17,447.7 301,447.7 301,414.7 300.69,414.7 300.69,415.4 300.17,415.4 300.17,434.1 300,434.1 300,460.3 299.69,460.3 299.69,460.4 299.17,460.4 299.17,460.5 299,460.5 299,460.5 298,460.5 298,459.8 297.69,459.8 297.69,460.0 297.17,460.0 297.17,460.2 297,460.2 297,406.8 296.69,406.8 296.69,421.3 296.17,421.3 296.17,436.4 296,436.4 296,463.7 295.69,463.7 295.69,463.8 295.17,463.8 295.17,463.9 295,463.9 295,464.1 294,464.1 294,463.8 293.69,463.8 293.69,463.9 293.17,463.9 293.17,464.0 293,464.0 293,407.4 292.17,407.4 292.17,420.3 292,420.3 292,459.8 291.69,459.8 291.69,460.0 291.17,460.0 291.17,460.2 291,460.2 291,460.5 290,460.5 290,460.3 289.69,460.3 289.69,460.4 289.17,460.4 289.17,460.5 289,460.5 289,420.5 288.17,420.6 288.17,424.4 288,424.4 288,457.0 287.69,457.0 287.69,457.1 287.17,457.1 287.17,457.2 287,457.2 287,457.4 286,457.5 286,457.1 285.69,457.1 285.69,457.2 285.17,457.2 285.17,457.3 285,457.3 285,431.7 284,431.7 284,447.1 283.69,447.1 283.69,447.4 283.17,447.4 283.17,447.6 283,447.6 283,447.9 282,447.9 282,447.7 281.69,447.7 281.69,447.7 281.17,447.7 281.17,447.8 281,447.8 281,440.5 280,440.5 280,440.4 279,440.5 279,437.0 278,437.0 278,436.9 277.69,436.9 277.69,445.5 277.17,445.5 277.17,446.8 277,446.8 277,449.6 276,449.7 275,449.7 275,431.9 274.69,431.9 274.69,444.4 274.17,444.4 274.17,448.9 274,448.9 274,429.0 273.69,429.0 273.69,434.9 273.17,434.9 273.17,441.7 273,441.7 273,443.3 272,443.4 271,443.4 271,434.3 270.69,434.3 270.69,440.5 270.17,440.5 270.17,442.6 270,442.6 270,436.3 269.69,436.3 269.69,447.8 269.17,447.8 269.17,456.2 269,456.2 269,460.4 268.69,460.4 268.69,460.5 267.69,460.5 267,460.5 267,457.1 266.69,457.1 266.69,459.8 266.17,459.8 266.17,460.0 266,460.0 266,425.9 265.69,425.9 265.69,441.3 265.17,441.3 265.17,443.3 265,443.3 265,466.9 264.69,466.9 264.69,467.0 264.17,467.0 264.17,467.1 264,467.1 264,467.2 263,467.2 263,466.7 262.69,466.7 262.69,466.9 262.17,466.9 262.17,467.0 262,467.0 262,428.2 261.69,428.2 261.69,432.0 261.17,432.0 261.17,455.3 261,455.3 261,483.8 260.69,483.8 260.69,483.9 260.17,483.9 260.17,483.9 260,483.9 260,484.0 259,484.0 259,483.3 258.69,483.3 258.69,483.5 258.17,483.5 258.17,483.7 258,483.7 258,437.6 257.17,437.6 257.17,450.5 257,450.5 257,467.0 256.69,467.0 256.69,467.1 256.17,467.1 256.17,467.1 256,467.1 256,467.2 255,467.2 255,466.5 254.69,466.5 254.69,466.7 254.17,466.7 254.17,466.9 254,466.9 254,444.6 253,444.6 253,459.9 252.69,459.9 252.69,460.0 252.17,460.0 252.17,460.0 252,460.0 252,460.1 251,460.1 251,459.3 250.69,459.3 250.69,459.6 250.17,459.6 250.17,459.8 250,459.8 250,456.7 249,456.7 249,456.5 248.69,456.5 248.69,456.6 248.17,456.6 248.17,456.6 248,456.6 248,445.9 247,445.9 247,464.5 246.69,464.5 246.69,466.5 246.17,466.5 246.17,466.7 246,466.7 246,467.2 245,467.2 245,467.1 244.69,467.1 244.69,467.1 244,467.2 244,435.9 243.69,435.9 243.69,447.8 243.17,447.8 243.17,458.8 243,458.8 243,460.0 242.69,460.0 242.69,469.5 242.17,469.5 242.17,473.3 242,473.3 242,474.0 241,474.1 241,474.0 240,474.1 240,440.7 239.69,440.7 239.69,456.4 239.17,456.4 239.17,468.7 239,468.7 239,474.8 238.69,474.8 238.69,487.0 238.17,487.0 238.17,489.6 238,489.6 238,490.3 237,490.3 237,490.3 236,490.3 236,452.2 235.69,452.2 235.69,475.0 235.17,475.0 235.17,487.4 235,487.4 235,473.7 234.69,473.7 234.69,476.0 234.17,476.0 234.17,483.3 234,483.3 234,484.0 233,484.0 233,483.9 232,484.0 232,458.4 231.69,458.4 231.69,465.1 231.17,465.1 231.17,478.6 231,478.6 231,454.7 230.69,454.7 230.69,468.1 230.17,468.1 230.17,468.8 230,468.8 230,469.5 229,469.6 229,469.5 228,469.5 228,441.5 227.69,441.5 227.69,456.0 227.17,456.0 227.17,464.9 227,464.9 227,453.6 226.69,453.6 226.69,456.7 226.17,456.7 226.17,457.0 226,457.0 226,457.4 225,457.5 225,457.3 224.69,457.3 224.69,457.4 224,457.4 224,436.9 223.69,436.9 223.69,445.9 223.17,445.9 223.17,451.4 223,451.4 223,437.0 222,437.0 222,436.3 221.69,436.3 221.69,436.5 221.17,436.5 221.17,436.7 221,436.7 221,434.4 220,434.4 220,447.6 219.69,447.6 219.69,447.7 219.17,447.7 219.17,447.7 219,447.7 219,447.9 218,447.9 218,447.4 217.69,447.4 217.69,447.6 217.17,447.6 217.17,447.7 217,447.7 217,420.4 216.69,420.4 216.69,425.5 216.17,425.5 216.17,428.2 216,428.2 216,470.1 215.69,470.1 215.69,470.3 215.17,470.3 215.17,470.5 215,470.5 215,470.8 214,470.8 214,470.6 213.69,470.6 213.69,470.7 213.17,470.7 213.17,470.8 213,470.8 213,425.5 212.17,425.5 212.17,439.6 212,439.6 212,489.6 211.69,489.6 211.69,489.9 211.17,489.9 211.17,490.0 211,490.0 211,490.3 210,490.3 210,490.1 209.69,490.1 209.69,490.2 209.17,490.2 209.17,490.3 209,490.3 209,434.1 208.17,434.1 208.17,444.0 208,444.0 208,497.1 207.69,497.1 207.69,497.2 207.17,497.2 207.17,497.4 207,497.4 207,497.6 206,497.6 206,497.2 205.69,497.2 205.69,497.4 205.17,497.4 205.17,497.4 205,497.4 205,429.6 204.17,429.6 204.17,433.9 204,433.9 204,473.8 203.69,473.8 203.69,473.9 203.17,473.9 203.17,473.9 203,473.9 203,474.1 202,474.1 202,473.6 201.69,473.6 201.69,473.8 201.17,473.8 201.17,473.9 201,473.9 201,429.0 200,429.0 200,470.3 199.69,470.3 199.69,470.5 199.17,470.5 199.17,470.6 199,470.6 199,470.8 198,470.8 198,470.5 197.69,470.5 197.69,470.6 197.17,470.6 197.17,470.7 197,470.7 197,438.5 196,438.5 196,448.2 195.69,448.2 195.69,448.3 195.17,448.3 195.17,448.4 195,448.4 195,448.6 194,448.6 194,448.3 193.69,448.3 193.69,448.4 193.17,448.4 193.17,448.5 193,448.5 193,457.2 192.69,457.2 192.69,457.3 191.69,457.4 191,457.4 191,455.3 190.69,455.3 190.69,456.6 190.17,456.6 190.17,456.9 190,456.9 190,430.2 189.69,430.2 189.69,442.4 189.17,442.4 189.17,454.7 189,454.7 189,473.9 188.69,473.9 188.69,474.0 187.69,474.1 187,474.1 187,469.0 186.69,469.0 186.69,473.3 186.17,473.3 186.17,473.6 186,473.6 186,428.1 185.69,428.1 185.69,447.1 185.17,447.1 185.17,463.4 185,463.4 185,483.8 184.69,483.8 184.69,483.9 184.17,483.9 184.17,483.9 184,483.9 184,484.0 183,484.0 183,483.3 182.69,483.3 182.69,483.5 182.17,483.5 182.17,483.7 182,483.7 182,422.6 181.69,422.6 181.69,438.9 181.17,438.9 181.17,458.4 181,458.4 181,477.6 180.69,477.6 180.69,477.6 179.69,477.7 179,477.7 179,470.7 178.69,470.7 178.69,476.9 178.17,476.9 178.17,477.2 178,477.2 178,421.6 177.69,421.6 177.69,444.9 177.17,444.9 177.17,463.7 177,463.7 177,474.0 176,474.1 175,474.1 175,471.1 174.69,471.1 174.69,471.3 174.17,471.3 174.17,473.3 174,473.3 174,433.6 173.69,433.6 173.69,447.2 173.17,447.2 173.17,456.4 173,456.4 173,460.4 172.69,460.4 172.69,460.5 171.69,460.5 171,460.5 171,457.4 170.69,457.4 170.69,459.8 170.17,459.8 170.17,460.0 170,460.0 170,425.2 169.69,425.2 169.69,429.4 169.17,429.4 169.17,429.7 169,429.7 169,443.1 168.69,443.1 168.69,443.2 168.17,443.2 168.17,443.2 168,443.2 168,443.3 167,443.3 167,444.3 166.69,444.3 166.69,444.5 166.17,444.5 166.17,444.7 166,444.7 166,447.8 165,447.9 164,447.9 164,434.5 163.69,434.5 163.69,443.0 163.17,443.0 163.17,447.1 163,447.1 163,458.1 162.69,458.1 162.69,460.9 162.17,460.9 162.17,466.5 162,466.5 162,467.2 161,467.2 161,467.1 160,467.2 160,432.7 159.69,432.7 159.69,447.3 159.17,447.3 159.17,461.4 159,461.4 159,469.4 158.69,469.4 158.69,476.9 158.17,476.9 158.17,477.2 158,477.2 158,477.7 157,477.7 157,477.6 156.69,477.6 156.69,477.6 156,477.7 156,428.8 155.69,428.8 155.69,453.5 155.17,453.5 155.17,458.5 155,458.5 155,473.7 154.69,473.7 154.69,474.0 154.17,474.0 154.17,476.9 154,476.9 154,477.7 153,477.7 153,477.6 152,477.7 152,419.4 151.69,419.4 151.69,445.4 151.17,445.4 151.17,466.6 151,466.6 151,475.6 150.69,475.6 150.69,483.3 150.17,483.3 150.17,483.5 150,483.5 150,484.0 149,484.0 149,483.9 148.69,483.9 148.69,483.9 148,484.0 148,440.1 147.69,440.1 147.69,454.2 147.17,454.2 147.17,470.5 147,470.5 147,479.2 146.69,479.2 146.69,483.3 146.17,483.3 146.17,483.5 146,483.5 146,484.0 145,484.0 145,483.9 144.69,483.9 144.69,483.9 144,484.0 144,450.0 143.69,450.0 143.69,465.0 143.17,465.0 143.17,473.3 143,473.3 143,452.4 142.69,452.4 142.69,458.2 142.17,458.2 142.17,458.4 142,458.4 142,460.5 141,460.5 140,460.5 140,452.0 139.69,452.0 139.69,456.7 139.17,456.7 139.17,459.8 139,459.8 139,452.2 138,452.2 138,451.9 137.69,451.9 137.69,452.0 137.17,452.0 137.17,452.1 137,452.1 137,448.4 136,448.4 136,463.8 135.69,463.8 135.69,463.9 135.17,463.9 135.17,464.0 135,464.0 135,464.1 134,464.1 134,463.7 133.69,463.7 133.69,463.8 133.17,463.8 133.17,463.9 133,463.9 133,434.5 132,434.5 132,466.9 131.69,466.9 131.69,467.0 131.17,467.0 131.17,467.1 131,467.1 131,467.2 130,467.2 130,466.7 129.69,466.7 129.69,466.9 129.17,466.9 129.17,467.0 129,467.0 129,422.4 128,422.4 128,477.2 127.69,477.2 127.69,477.4 127.17,477.4 127.17,477.5 127,477.5 127,477.7 126,477.7 126,477.4 125.69,477.4 125.69,477.5 125.17,477.5 125.17,477.6 125,477.6 125,416.7 124.69,416.7 124.69,423.3 124.17,423.3 124.17,430.5 124,430.5 124,473.8 123.69,473.8 123.69,473.9 123.17,473.9 123.17,473.9 123,473.9 123,474.1 122,474.1 122,473.6 121.69,473.6 121.69,473.8 121.17,473.8 121.17,473.9 121,473.9 121,421.7 120.69,421.7 120.69,431.4 120.17,431.4 120.17,433.5 120,433.5 120,466.5 119.69,466.5 119.69,466.7 119.17,466.7 119.17,466.9 119,466.9 119,467.2 118,467.2 118,467.0 117.69,467.0 117.69,467.1 117.17,467.1 117.17,467.1 117,467.1 117,408.1 116.69,408.1 116.69,417.8 116.17,417.8 116.17,434.2 116,434.2 116,433.6 115.69,433.6 115.69,433.9 115.17,433.9 115.17,434.0 115,434.0 115,434.3 114,434.3 114,434.1 113.69,434.1 113.69,434.2 113.17,434.2 113.17,434.3 113,434.3 113,420.6 112.69,420.6 112.69,420.6 112.17,420.6 112.17,420.7 112,420.7 112,433.2 111.69,433.2 111.69,433.5 111.17,433.5 111.17,433.7 111,433.7 111,434.0 110,434.0 110,433.8 109.69,433.8 109.69,433.9 109.17,433.9 109.17,433.9 109,433.9 109,441.2 108.69,441.2 108.69,441.2 107.69,441.3 107,441.3 107,434.2 106.69,434.2 106.69,440.5 106.17,440.5 106.17,440.8 106,440.8 106,430.9 105.69,430.9 105.69,440.8 105.17,440.8 105.17,449.0 105,449.0 105,457.4 104,457.4 103,457.5 103,451.9 102.69,451.9 102.69,455.9 102.17,455.9 102.17,456.7 102,456.7 102,439.0 101.69,439.0 101.69,457.1 101.17,457.1 101.17,469.9 101,469.9 101,477.6 100.69,477.6 100.69,477.6 99.69,477.7 99,477.7 99,468.7 98.69,468.7 98.69,476.9 98.17,476.9 98.17,477.2 98,477.2 98,446.3 97.69,446.3 97.69,461.5 97.17,461.5 97.17,475.2 97,475.2 97,483.9 96,484.0 95,484.0 95,475.5 94.69,475.5 94.69,482.3 94.17,482.3 94.17,483.3 94,483.3 94,439.7 93.69,439.7 93.69,440.0 93.17,440.0 93.17,440.1 93,440.1 93,440.4 92,440.4 92,440.2 91.72,440.2 91.72,440.3 91.28,440.3 91.28,440.4 91.13,440.4ZM501.86,104.5 503,104.5 503,123.2 504,123.2 504,100.1 504.17,100.1 504.17,100.2 504.69,100.2 504.69,100.3 505,100.3 505,100.0 506,100.0 506,100.2 506.17,100.2 506.17,100.3 506.69,100.3 506.69,100.4 507,100.4 507,109.7 508.69,109.7 508.69,109.8 509,109.8 509,113.7 510,113.7 510,96.7 510.17,96.7 510.17,96.9 510.69,96.9 510.69,97.2 511,97.2 511,96.4 512,96.4 512,96.5 512.17,96.5 512.17,96.6 512.69,96.6 512.69,96.6 513,96.6 513,111.3 513.17,111.3 513.17,122.9 514,122.9 514,87.0 514.17,87.0 514.17,87.2 514.69,87.2 514.69,91.3 515,91.3 515,86.5 516.69,86.6 516.69,86.6 517,86.6 517,94.4 517.17,94.4 517.17,108.1 517.69,108.1 517.69,125.3 518,125.3 518,80.4 518.17,80.4 518.17,84.2 518.69,84.2 518.69,95.6 519,95.6 519,79.6 521,79.7 521,84.5 521.17,84.5 521.17,95.6 521.69,95.6 521.69,111.3 522,111.3 522,76.9 522.17,76.9 522.17,83.5 522.69,83.5 522.69,97.0 523,97.0 523,76.2 525,76.3 525,78.7 525.17,78.7 525.17,89.5 525.69,89.5 525.69,107.7 526,107.7 526,60.1 526.17,60.1 526.17,66.7 526.69,66.7 526.69,82.7 527,82.7 527,59.4 529,59.5 529,65.9 529.17,65.9 529.17,73.6 529.69,73.6 529.69,83.3 530,83.3 530,73.7 530.17,73.7 530.17,75.9 530.69,75.9 530.69,87.8 531,87.8 531,72.6 531.69,72.6 531.69,72.7 532,72.7 532,72.6 533,72.6 533,73.1 533.17,73.1 533.17,73.3 533.69,73.3 533.69,85.9 534,85.9 534,84.7 534.17,84.7 534.17,93.6 534.69,93.6 534.69,94.9 535,94.9 535,84.0 537,84.1 537,86.2 537.17,86.2 537.17,86.6 537.69,86.6 537.69,86.7 538,86.7 538,86.5 539,86.5 539,86.7 539.17,86.7 539.17,86.8 539.69,86.8 539.69,87.0 540,87.0 540,96.9 541,96.9 541,69.8 541.17,69.8 541.17,69.9 541.69,69.9 541.69,70.0 542,70.0 542,69.7 543,69.7 543,69.9 543.17,69.9 543.17,70.0 543.69,70.0 543.69,70.2 544,70.2 544,114.7 545,114.8 545,69.8 545.17,69.8 545.17,69.9 545.69,69.9 545.69,70.0 546,70.0 546,69.7 547,69.7 547,69.9 547.17,69.9 547.17,70.0 547.69,70.0 547.69,70.2 548,70.2 548,112.4 548.17,112.4 548.17,130.3 549,130.3 549,66.4 549.17,66.4 549.17,66.6 549.69,66.6 549.69,66.8 550,66.8 550,66.1 551,66.1 551,66.1 551.17,66.1 551.17,66.2 551.69,66.2 551.69,66.3 552,66.3 552,104.2 552.17,104.2 552.17,121.3 553,121.3 553,56.6 553.17,56.6 553.17,56.8 553.69,56.8 553.69,57.1 554,57.1 554,56.3 555,56.3 555,56.4 555.17,56.4 555.17,56.4 555.69,56.4 555.69,56.5 556,56.5 556,88.9 556.17,88.9 556.17,111.6 556.69,111.6 556.69,115.5 557,115.5 557,73.1 557.17,73.1 557.17,73.3 557.69,73.3 557.69,75.9 558,75.9 558,72.6 559.69,72.6 559.69,72.7 560,72.7 560,101.6 560.17,101.6 560.17,116.4 561,116.4 561,96.7 561.17,96.7 561.17,96.9 561.69,96.9 561.69,97.2 562,97.2 562,96.4 563,96.4 563,96.5 563.17,96.5 563.17,96.6 563.69,96.6 563.69,96.6 564,96.6 564,112.3 565,112.3 565,112.3 566,112.3 566,113.0 566.17,113.0 566.17,116.3 567,116.3 567,114.8 567.17,114.8 567.17,116.4 567.69,116.4 567.69,116.4 568,116.4 568,107.3 568.69,107.3 568.69,107.4 569,107.4 569,107.3 570,107.3 570,107.7 570.17,107.7 570.17,108.0 570.69,108.0 570.69,109.2 571,109.2 571,107.1 571.17,107.1 571.17,121.4 571.69,121.4 571.69,133.5 572,133.5 572,82.9 572.17,82.9 572.17,83.0 572.69,83.0 572.69,83.1 573,83.1 573,82.9 574,82.9 574,83.2 574.17,83.2 574.17,83.4 574.69,83.4 574.69,83.6 575,83.6 575,98.3 575.17,98.3 575.17,120.6 575.69,120.6 575.69,136.2 576,136.2 576,69.7 576.69,69.8 576.69,69.8 577,69.8 577,69.7 578,69.7 578,70.2 578.17,70.2 578.17,70.4 578.69,70.4 578.69,71.5 579,71.5 579,90.9 579.17,90.9 579.17,115.0 579.69,115.0 579.69,130.3 580,130.3 580,66.6 580.69,66.7 580.69,66.7 581,66.7 581,66.6 582,66.6 582,67.1 582.17,67.1 582.17,67.4 582.69,67.4 582.69,70.1 583,70.1 583,99.9 583.17,99.9 583.17,120.5 583.69,120.5 583.69,129.0 584,129.0 584,73.0 584.17,73.0 584.17,73.1 584.69,73.1 584.69,73.1 585,73.1 585,72.9 586,72.9 586,73.3 586.17,73.3 586.17,73.4 586.69,73.4 586.69,73.7 587,73.7 587,104.2 587.17,104.2 587.17,113.9 588,113.9 588,73.0 588.17,73.0 588.17,73.1 588.69,73.1 588.69,73.1 589,73.1 589,72.9 590,72.9 590,73.3 590.17,73.3 590.17,73.4 590.69,73.4 590.69,73.7 591,73.7 591,116.1 592,116.1 592,112.0 592.17,112.0 592.17,112.0 592.69,112.0 592.69,112.1 593,112.1 593,111.9 594,111.9 594,103.1 594.17,103.1 594.17,103.2 594.69,103.2 594.69,103.5 595,103.5 595,102.8 596,102.8 596,102.8 596.17,102.8 596.17,102.9 596.69,102.9 596.69,103.0 597,103.0 597,113.0 597.17,113.0 597.17,118.9 598,118.9 598,80.4 598.17,80.4 598.17,82.2 598.69,82.2 598.69,93.7 599,93.7 599,79.6 601,79.7 601,84.4 601.17,84.4 601.17,93.9 601.69,93.9 601.69,111.5 602,111.5 602,68.6 602.17,68.6 602.17,76.9 602.69,76.9 602.69,89.5 603,89.5 603,67.9 605,68.0 605,70.2 605.17,70.2 605.17,84.7 605.69,84.7 605.69,101.1 606,101.1 606,84.9 606.17,84.9 606.17,92.1 606.69,92.1 606.69,107.3 607,107.3 607,84.1 609,84.2 609,90.3 609.17,90.3 609.17,92.3 609.69,92.3 609.69,107.3 610,107.3 610,73.5 610.17,73.5 610.17,85.1 610.69,85.1 610.69,98.4 611,98.4 611,67.9 612,68.0 612,67.9 613,67.9 613,68.6 613.17,68.6 613.17,77.7 613.69,77.7 613.69,97.8 614,97.8 614,78.6 614.17,78.6 614.17,87.6 614.69,87.6 614.69,105.5 615,105.5 615,77.8 617,77.9 617,80.5 617.17,80.5 617.17,93.0 617.69,93.0 617.69,105.5 618,105.5 618,101.7 618.17,101.7 618.17,105.4 618.69,105.4 618.69,115.6 619,115.6 619,100.9 621,101.0 621,105.8 621.17,105.8 621.17,108.0 621.69,108.0 621.69,111.6 622,111.6 622,111.4 623,111.4 623,111.5 623.17,111.5 623.17,111.6 623.69,111.6 623.69,111.7 624,111.7 624,118.1 625,118.2 625,91.6 625.17,91.6 625.17,91.7 625.69,91.7 625.69,91.8 626,91.8 626,91.4 627,91.4 627,91.5 627.17,91.5 627.17,91.6 627.69,91.6 627.69,91.7 628,91.7 628,121.3 629,121.3 629,64.6 629.17,64.6 629.17,64.7 629.69,64.7 629.69,64.8 630,64.8 630,64.4 631,64.5 631,64.7 631.17,64.7 631.17,64.8 631.69,64.8 631.69,64.9 632,64.9 632,116.4 632.17,116.4 632.17,121.5 633,121.5 633,64.7 633.17,64.7 633.17,64.8 633.69,64.8 633.69,64.9 634,64.9 634,64.4 635,64.5 635,64.6 635.17,64.6 635.17,64.7 635.69,64.7 635.69,64.8 636,64.8 636,105.3 636.17,105.3 636.17,129.1 637,129.1 637,64.7 637.17,64.7 637.17,64.8 637.69,64.8 637.69,64.9 638,64.9 638,64.4 639,64.5 639,64.6 639.17,64.6 639.17,64.7 639.69,64.7 639.69,64.8 640,64.8 640,103.9 640.17,103.9 640.17,127.5 641,127.5 641,71.5 641.17,71.5 641.17,71.6 641.69,71.6 641.69,71.9 642,71.9 642,71.1 643,71.1 643,71.2 643.17,71.2 643.17,71.3 643.69,71.3 643.69,71.3 644,71.3 644,110.7 644.17,110.7 644.17,130.6 645,130.6 645,98.2 645.17,98.2 645.17,98.3 645.69,98.3 645.69,98.6 646,98.6 646,97.9 647,97.9 647,97.9 647.17,97.9 647.17,98.0 647.69,98.0 647.69,98.1 648,98.1 648,118.9 648.69,119.0 648.69,119.0 649,119.0 649,112.3 649.17,112.3 649.17,112.5 649.69,112.5 649.69,113.4 650,113.4 650,111.8 651.69,111.9 651.69,111.9 652,111.9 652,97.9 652.69,97.9 652.69,98.0 653,98.0 653,97.9 654,97.9 654,98.3 654.17,98.3 654.17,98.6 654.69,98.6 654.69,99.2 655,99.2 655,106.9 655.17,106.9 655.17,119.5 656,119.5 656,84.7 656.69,84.8 656.69,84.8 657,84.8 657,84.7 658,84.7 658,85.2 658.17,85.2 658.17,85.4 658.69,85.4 658.69,86.6 659,86.6 659,115.1 659.17,115.1 659.17,126.2 659.69,126.2 659.69,136.0 660,136.0 660,84.2 660.17,84.2 660.17,84.3 660.69,84.3 660.69,84.4 661,84.4 661,84.1 662,84.1 662,84.5 662.17,84.5 662.17,84.6 662.69,84.6 662.69,84.9 663,84.9 663,125.7 663.17,125.7 663.17,144.5 663.69,144.5 663.69,150.5 664,150.5 664,88.0 664.17,88.0 664.17,88.1 664.69,88.1 664.69,88.1 665,88.1 665,87.9 666,87.9 666,88.3 666.17,88.3 666.17,88.4 666.69,88.4 666.69,88.7 667,88.7 667,118.3 667.17,118.3 667.17,140.6 667.69,140.6 667.69,151.5 668,151.5 668,88.2 668.17,88.2 668.17,88.2 668.69,88.2 668.69,88.3 669,88.3 669,88.1 670,88.1 670,88.4 670.17,88.4 670.17,88.6 670.69,88.6 670.69,88.9 671,88.9 671,121.6 671.17,121.6 671.17,137.5 671.69,137.5 671.69,144.1 672,144.1 672,98.4 672.17,98.4 672.17,98.6 672.69,98.6 672.69,98.7 673,98.7 673,98.2 674,98.2 674,98.4 674.17,98.4 674.17,98.4 674.69,98.4 674.69,98.6 675,98.6 675,122.1 676,122.1 676,98.0 676.17,98.0 676.17,98.1 676.69,98.1 676.69,98.3 677,98.3 677,97.8 678,97.8 678,95.0 678.17,95.0 678.17,97.0 678.69,97.0 678.69,97.3 679,97.3 679,94.3 681,94.3 681,101.0 682,101.0 682,78.8 682.17,78.8 682.17,79.1 682.69,79.1 682.69,87.3 683,87.3 683,78.4 684.69,78.4 684.69,78.5 685,78.5 685,89.5 685.17,89.5 685.17,91.6 685.69,91.6 685.69,109.4 686,109.4 686,72.0 686.17,72.0 686.17,72.2 686.69,72.2 686.69,79.5 687,79.5 687,71.5 688.69,71.6 688.69,71.6 689,71.6 689,77.5 689.17,77.5 689.17,89.1 689.69,89.1 689.69,106.9 690,106.9 690,59.6 690.17,59.6 690.17,62.7 690.69,62.7 690.69,63.0 691,63.0 691,57.6 692,57.7 692,57.6 693,57.6 693,58.3 693.17,58.3 693.17,69.5 693.69,69.5 693.69,89.7 694,89.7 694,69.0 694.17,69.0 694.17,79.8 694.69,79.8 694.69,94.3 695,94.3 695,67.9 696,68.0 696,67.9 697,67.9 697,68.6 697.17,68.6 697.17,78.7 697.69,78.7 697.69,97.1 698,97.1 698,91.7 698.17,91.7 698.17,103.1 698.69,103.1 698.69,120.4 699,120.4 699,88.3 700,88.4 700,88.3 701,88.3 701,89.0 701.17,89.0 701.17,96.1 701.69,96.1 701.69,112.6 702,112.6 702,106.7 702.17,106.7 702.17,119.7 702.69,119.7 702.69,132.4 703,132.4 703,101.9 704,101.9 704,101.8 705,101.9 705,102.6 705.17,102.6 705.17,107.6 705.69,107.6 705.69,112.3 706,112.3 706,114.6 706.17,114.6 706.17,115.7 707,115.7 707,108.2 707.17,108.2 707.17,108.2 707.69,108.2 707.69,108.3 708,108.3 708,108.1 709,108.1 709,98.0 709.17,98.0 709.17,98.1 709.69,98.1 709.69,98.2 710,98.2 710,97.9 711,97.9 711,98.1 711.17,98.1 711.17,98.2 711.69,98.2 711.69,98.3 712,98.3 712,129.5 713,129.5 713,103.0 713.17,103.0 713.17,103.1 713.69,103.1 713.69,103.2 714,103.2 714,102.8 715,102.8 715,102.9 715.17,102.9 715.17,103.0 715.69,103.0 715.69,103.1 716,103.1 716,139.3 716.17,139.3 716.17,147.6 717,147.6 717,90.3 717.17,90.3 717.17,90.4 717.69,90.4 717.69,90.6 718,90.6 718,90.1 719,90.1 719,90.2 719.17,90.2 719.17,90.3 719.69,90.3 719.69,90.4 720,90.4 720,128.9 720.17,128.9 720.17,148.2 720.69,148.2 720.69,151.5 721,151.5 721,91.6 721.17,91.6 721.17,91.7 721.69,91.7 721.69,91.8 722,91.8 722,91.4 723,91.4 723,91.5 723.17,91.5 723.17,91.6 723.69,91.6 723.69,91.7 724,91.7 724,118.6 724.17,118.6 724.17,136.4 724.69,136.4 724.69,151.0 725,151.0 725,81.9 725.17,81.9 725.17,82.2 725.69,82.2 725.69,86.2 726,86.2 726,81.4 727.69,81.5 727.69,81.6 728,81.6 728,102.3 728.17,102.3 728.17,123.0 728.69,123.0 728.69,139.4 729,139.4 729,98.3 729.17,98.3 729.17,98.6 729.69,98.6 729.69,101.1 730,101.1 730,97.9 731.69,97.9 731.69,98.0 732,98.0 732,119.4 732.69,119.5 732.69,119.5 733,119.5 733,91.7 733.17,91.7 733.17,91.8 733.69,91.8 733.69,92.1 734,92.1 734,91.4 735,91.4 735,91.4 735.17,91.4 735.17,91.5 735.69,91.5 735.69,91.6 736,91.6 736,100.0 737,100.0 737,100.0 738,100.0 738,100.7 738.17,100.7 738.17,101.5 738.69,101.5 738.69,101.8 739,101.8 739,98.1 739.17,98.1 739.17,107.4 740,107.4 740,91.4 740.69,91.4 740.69,91.5 741,91.5 741,91.4 742,91.4 742,91.8 742.17,91.8 742.17,92.1 742.69,92.1 742.69,97.8 743,97.8 743,105.9 743.17,105.9 743.17,106.2 743.69,106.2 743.69,124.2 744,124.2 744,81.5 744.17,81.5 744.17,81.6 744.69,81.6 744.69,81.6 745,81.6 745,81.4 746,81.4 746,81.8 746.17,81.8 746.17,81.9 746.69,81.9 746.69,82.2 747,82.2 747,128.6 747.17,128.6 747.17,143.5 748,143.6 748,91.4 748.17,91.4 748.17,91.5 748.69,91.5 748.69,91.6 749,91.6 749,91.4 750,91.4 750,91.7 750.17,91.7 750.17,91.8 750.69,91.8 750.69,92.1 751,92.1 751,142.3 751.17,142.3 751.17,151.5 752,151.5 752,95.6 752.17,95.6 752.17,95.7 752.69,95.7 752.69,95.7 753,95.7 753,95.5 754,95.5 754,95.8 754.17,95.8 754.17,96.0 754.69,96.0 754.69,96.3 755,96.3 755,133.6 755.17,133.6 755.17,144.8 756,144.8 756,85.7 756.17,85.7 756.17,85.7 756.69,85.7 756.69,85.8 757,85.8 757,85.6 758,85.6 758,85.9 758.17,85.9 758.17,86.1 758.69,86.1 758.69,86.3 759,86.3 759,131.4 760,131.4 760,104.8 760.17,104.8 760.17,104.9 760.69,104.9 760.69,105.0 761,105.0 761,104.6 762,104.6 762,104.7 762.17,104.7 762.17,104.8 762.69,104.8 762.69,104.9 763,104.9 763,123.7 764,123.7 764,120.2 764.17,120.2 764.17,120.2 764.69,120.2 764.69,120.4 765,120.4 765,120.0 766,120.0 766,111.7 766.17,111.7 766.17,112.0 766.69,112.0 766.69,120.1 767,120.1 767,111.2 768.69,111.3 768.69,111.4 769,111.4 769,124.9 769.17,124.9 769.17,125.2 769.69,125.2 769.69,138.9 770,138.9 770,112.8 770.17,112.8 770.17,113.1 770.69,113.1 770.69,119.4 771,119.4 771,112.3 772.69,112.4 772.69,112.5 773,112.5 773,115.5 773.17,115.5 773.17,125.4 773.69,125.4 773.69,140.1 774,140.1 774,106.6 774.17,106.6 774.17,113.8 774.69,113.8 774.69,114.0 775,114.0 775,105.8 777,105.9 777,107.4 777.17,107.4 777.17,111.7 777.69,111.7 777.69,122.3 778,122.3 778,86.2 778.17,86.2 778.17,97.4 778.69,97.4 778.69,114.2 779,114.2 779,78.4 780,78.4 780,78.4 781,78.4 781,79.1 781.17,79.1 781.17,83.3 781.69,83.3 781.69,97.4 782,97.4 782,86.5 782.17,86.5 782.17,100.9 782.69,100.9 782.69,122.0 783,122.0 783,82.0 784,82.0 784,82.0 785,82.0 785,82.7 785.17,82.7 785.17,90.7 785.69,90.7 785.69,100.8 786,100.8 786,86.6 786.17,86.6 786.17,97.1 786.69,97.1 786.69,112.9 787,112.9 787,82.0 787.69,82.0 787.69,82.1 788,82.1 788,82.0 789,82.0 789,82.5 789.17,82.5 789.17,82.7 789.69,82.7 789.69,94.1 790,94.1 790,114.0 790.17,114.0 790.17,122.2 791,122.2 791,105.8 792,105.9 792,105.8 793,105.9 793,106.6 793.17,106.6 793.17,110.7 793.69,110.7 793.69,116.3 794,116.3 794,116.1 795,116.1 795,116.3 795.17,116.3 795.17,116.5 795.69,116.5 795.69,116.6 796,116.6 796,124.6 797,124.6 797,106.0 797.17,106.0 797.17,106.1 797.69,106.1 797.69,106.3 798,106.3 798,105.8 799,105.8 799,105.9 799.17,105.9 799.17,106.0 799.69,106.0 799.69,106.1 800,106.1 800,137.9 800.17,137.9 800.17,146.2 801,146.2 801,99.3 801.17,99.3 801.17,99.5 801.69,99.5 801.69,99.6 802,99.6 802,99.1 803,99.1 803,99.3 803.17,99.3 803.17,99.3 803.69,99.3 803.69,99.5 804,99.5 804,128.9 804.17,128.9 804.17,150.8 804.69,150.8 804.69,151.5 805,151.5 805,79.1 805.17,79.1 805.17,79.2 805.69,79.2 805.69,79.4 806,79.4 806,78.9 807,78.9 807,79.0 807.17,79.0 807.17,79.1 807.69,79.1 807.69,79.2 808,79.2 808,107.3 808.17,107.3 808.17,122.4 808.69,122.4 808.69,140.2 809,140.2 809,76.1 809.17,76.1 809.17,76.4 809.69,76.4 809.69,77.7 810,77.7 810,75.7 811.69,75.7 811.69,75.8 812,75.8 812,94.7 812.17,94.7 812.17,112.4 812.69,112.4 812.69,135.3 813,135.3 813,89.0 813.17,89.0 813.17,89.1 813.69,89.1 813.69,89.4 814,89.4 814,88.7 815,88.7 815,88.7 815.17,88.7 815.17,88.8 815.69,88.8 815.69,88.9 816,88.9 816,100.1 816.17,100.1 816.17,118.0 816.69,118.0 816.69,118.2 817,118.2 817,76.1 817.17,76.1 817.17,76.4 817.69,76.4 817.69,82.0 818,82.0 818,75.7 819.69,75.7 819.69,75.8 820,75.8 820,89.3 820.17,89.3 820.17,100.4 821,100.5 821,97.5 821.17,97.5 821.17,97.7 821.69,97.7 821.69,100.4 822,100.4 822,97.0 823.69,97.1 823.69,97.1 824,97.1 824,92.9 824.69,92.9 824.69,93.0 825,93.0 825,92.8 826,92.8 826,93.1 826.17,93.1 826.17,93.3 826.69,93.3 826.69,93.6 827,93.6 827,97.5 827.17,97.5 827.17,111.8 828,111.9 828,68.9 828.17,68.9 828.17,68.9 828.69,68.9 828.69,69.0 829,69.0 829,68.8 830,68.8 830,69.1 830.17,69.1 830.17,69.3 830.69,69.3 830.69,69.5 831,69.5 831,104.9 831.17,104.9 831.17,120.5 832,120.5 832,65.8 832.17,65.8 832.17,65.8 832.69,65.8 832.69,65.9 833,65.9 833,65.7 834,65.7 834,66.0 834.17,66.0 834.17,66.2 834.69,66.2 834.69,66.5 835,66.5 835,90.8 835.17,90.8 835.17,117.5 835.69,117.5 835.69,121.4 836,121.4 836,48.6 836.17,48.6 836.17,48.7 836.69,48.7 836.69,48.8 837,48.8 837,48.6 838,48.6 838,48.9 838.17,48.9 838.17,49.0 838.69,49.0 838.69,49.3 839,49.3 839,91.4 839.17,91.4 839.17,107.6 839.69,107.6 839.69,112.8 840,112.8 840,45.6 840.17,45.6 840.17,45.7 840.69,45.7 840.69,45.8 841,45.8 841,45.5 842,45.5 842,45.7 842.17,45.7 842.17,45.8 842.69,45.8 842.69,46.0 843,46.0 843,112.4 844,112.4 844,72.5 844.17,72.5 844.17,72.5 844.69,72.5 844.69,72.6 845,72.6 845,72.4 846,72.4 846,72.7 846.17,72.7 846.17,72.9 846.69,72.9 846.69,73.1 847,73.1 847,99.3 848,99.3 848,75.7 848.17,75.7 848.17,75.8 848.69,75.8 848.69,75.9 849,75.9 849,75.7 850,75.7 850,76.0 850.17,76.0 850.17,76.1 850.69,76.1 850.69,76.4 851,76.4 851,94.0 853,94.0 853,102.4 853.17,102.4 853.17,102.6 853.69,102.6 853.69,114.9 854,114.9 854,97.8 854.17,97.8 854.17,109.8 854.69,109.8 854.69,110.1 855,110.1 855,95.5 856,95.6 856,95.5 857,95.6 857,96.3 857.17,96.3 857.17,104.2 857.69,104.2 857.69,120.2 858,120.2 858,52.9 858.17,52.9 858.17,66.6 858.69,66.6 858.69,89.9 859,89.9 859,52.2 861,52.2 861,53.4 861.17,53.4 861.17,62.2 861.69,62.2 861.69,69.8 862,69.8 862,69.5 862.17,69.5 862.17,80.6 862.69,80.6 862.69,102.6 863,102.6 863,68.8 865,68.9 865,70.9 865.17,70.9 865.17,71.2 865.69,71.2 865.69,85.3 866,85.3 866,71.2 866.17,71.2 866.17,71.5 866.69,71.5 866.69,88.6 867,88.6 867,65.4 868,65.4 868,65.4 869,65.4 869,66.1 869.17,66.1 869.17,67.0 869.69,67.0 869.69,76.5 870,76.5 870,95.0 870.17,95.0 870.17,106.2 870.69,106.2 870.69,111.8 871,111.8 871,85.6 872,85.7 872,85.6 873,85.6 873,86.3 873.17,86.3 873.17,87.5 873.69,87.5 873.69,98.4 874,98.4 874,111.8 874.17,111.8 874.17,123.3 874.69,123.3 874.69,136.6 875,136.6 875,105.5 876,105.5 876,105.5 877,105.5 877,106.2 877.17,106.2 877.17,107.9 877.69,107.9 877.69,117.6 878,117.6 878,118.2 879,118.2 879,114.8 880,114.9 880,114.8 881,114.9 881,95.8 881.17,95.8 881.17,96.0 881.69,96.0 881.69,96.3 882,96.3 882,95.5 883,95.5 883,95.6 883.17,95.6 883.17,95.7 883.69,95.7 883.69,95.7 884,95.7 884,120.1 884.17,120.1 884.17,124.7 885,124.7 885,88.9 885.17,88.9 885.17,89.0 885.69,89.0 885.69,89.1 886,89.1 886,88.7 887,88.7 887,88.8 887.17,88.8 887.17,88.9 887.69,88.9 887.69,89.0 888,89.0 888,127.5 888.17,127.5 888.17,133.7 889,133.7 889,69.1 889.17,69.1 889.17,69.3 889.69,69.3 889.69,69.5 890,69.5 890,68.8 891,68.8 891,68.9 891.17,68.9 891.17,68.9 891.69,68.9 891.69,69.0 892,69.0 892,119.1 892.17,119.1 892.17,119.3 892.69,119.3 892.69,140.5 893,140.5 893,82.7 893.17,82.7 893.17,82.8 893.69,82.8 893.69,83.1 894,83.1 894,82.3 895,82.3 895,82.4 895.17,82.4 895.17,82.5 895.69,82.5 895.69,82.5 896,82.5 896,113.9 896.17,113.9 896.17,136.3 896.69,136.3 896.69,149.6 897,149.6 897,88.9 897.17,88.9 897.17,89.0 897.69,89.0 897.69,89.1 898,89.1 898,88.7 899,88.7 899,88.8 899.17,88.8 899.17,88.9 899.69,88.9 899.69,89.0 900,89.0 900,110.3 900.17,110.3 900.17,129.8 900.69,129.8 900.69,148.6 901,148.6 901,112.5 901.17,112.5 901.17,113.4 901.69,113.4 901.69,115.5 902,115.5 902,111.8 904,111.9 904,121.1 904.17,121.1 904.17,137.7 904.69,137.7 904.69,140.5 905,140.5 905,129.5 905.17,129.5 905.17,132.4 905.69,132.4 905.69,140.5 906,140.5 906,128.8 908,128.8 908,128.1 908.17,128.1 908.17,128.2 908.69,128.2 908.69,128.3 909,128.3 909,128.0 910,128.1 910,128.4 910.17,128.4 910.17,128.5 910.69,128.5 910.69,128.8 911,128.8 911,140.4 912,140.5 912,105.6 912.17,105.6 912.17,105.7 912.69,105.7 912.69,105.8 913,105.8 913,105.5 914,105.5 914,105.7 914.17,105.7 914.17,105.8 914.69,105.8 914.69,105.9 915,105.9 915,119.5 915.17,119.5 915.17,144.4 916,144.4 916,85.7 916.17,85.7 916.17,85.7 916.69,85.7 916.69,85.8 917,85.8 917,85.6 918,85.6 918,85.9 918.17,85.9 918.17,86.1 918.69,86.1 918.69,86.3 919,86.3 919,133.5 919.17,133.5 919.17,140.1 919.69,140.1 919.69,148.1 920,148.1 920,92.0 920.17,92.0 920.17,92.1 920.69,92.1 920.69,92.2 921,92.2 921,91.9 922,91.9 922,92.1 922.17,92.1 922.17,92.2 922.69,92.2 922.69,92.4 923,92.4 923,145.6 923.17,145.6 923.17,151.5 924,151.5 924,98.7 924.17,98.7 924.17,98.8 924.69,98.8 924.69,98.9 925,98.9 925,98.6 926,98.6 926,98.8 926.17,98.8 926.17,98.9 926.69,98.9 926.69,99.1 927,99.1 927,146.2 927.17,146.2 927.17,151.5 928,151.5 928,102.9 928.17,102.9 928.17,103.0 928.69,103.0 928.69,103.1 929,103.1 929,102.8 930,102.8 930,103.0 930.17,103.0 930.17,103.1 930.69,103.1 930.69,103.2 931,103.2 931,139.2 932,139.2 932,112.0 932.17,112.0 932.17,112.1 932.69,112.1 932.69,112.3 933,112.3 933,111.8 934,111.8 934,111.9 934.17,111.9 934.17,112.0 934.69,112.0 934.69,112.1 935,112.1 935,120.4 936,120.5 936,118.0 936.17,118.0 936.17,118.2 936.69,118.2 936.69,118.4 937,118.4 937,117.7 938,117.7 938,103.6 938.17,103.6 938.17,108.0 938.69,108.0 938.69,112.2 939,112.2 939,102.8 941,102.9 941,106.7 941.17,106.7 941.17,117.9 941.69,117.9 941.69,128.1 942,128.1 942,85.8 942.17,85.8 942.17,93.0 942.69,93.0 942.69,105.5 943,105.5 943,85.1 945,85.1 945,92.1 945.17,92.1 945.17,108.7 945.69,108.7 945.69,108.9 946,108.9 946,81.4 946.17,81.4 946.17,84.8 946.69,84.8 946.69,100.3 947,100.3 947,80.7 949,80.8 949,89.5 949.17,89.5 949.17,89.8 949.69,89.8 949.69,107.1 950,107.1 950,92.1 950.17,92.1 950.17,105.4 950.69,105.4 950.69,105.6 951,105.6 951,87.4 952,87.5 952,87.4 953,87.4 953,88.2 953.17,88.2 953.17,92.6 953.69,92.6 953.69,100.6 954,100.6 954,102.3 954.17,102.3 954.17,117.1 954.69,117.1 954.69,136.4 955,136.4 955,88.3 955.69,88.3 955.69,88.4 956,88.4 956,88.2 957,88.3 957,88.7 957.17,88.7 957.17,89.0 957.69,89.0 957.69,93.8 958,93.8 958,110.2 958.17,110.2 958.17,126.2 958.69,126.2 958.69,131.5 959,131.5 959,88.2 959.69,88.3 959.69,88.3 960,88.3 960,88.2 961,88.2 961,88.7 961.17,88.7 961.17,89.0 961.69,89.0 961.69,94.5 962,94.5 962,110.3 963,110.3 963,98.4 963.69,98.4 963.69,98.5 964,98.5 964,98.3 965,98.3 965,92.5 965.17,92.5 965.17,92.6 965.69,92.6 965.69,92.9 966,92.9 966,92.2 967,92.2 967,92.2 967.17,92.2 967.17,92.3 967.69,92.3 967.69,92.4 968,92.4 968,106.6 969,106.6 969,78.4 969.17,78.4 969.17,78.5 969.69,78.5 969.69,78.7 970,78.7 970,78.2 971,78.2 971,78.3 971.17,78.3 971.17,78.4 971.69,78.4 971.69,78.5 972,78.5 972,119.7 973,119.8 973,75.4 973.17,75.4 973.17,75.6 973.69,75.6 973.69,75.9 974,75.9 974,75.1 975,75.1 975,75.2 975.17,75.2 975.17,75.2 975.69,75.2 975.69,75.3 976,75.3 976,111.5 976.17,111.5 976.17,111.8 976.69,111.8 976.69,129.3 977,129.3 977,69.4 977.17,69.4 977.17,69.6 977.69,69.6 977.69,69.9 978,69.9 978,69.1 979,69.1 979,69.2 979.17,69.2 979.17,69.2 979.69,69.2 979.69,69.3 980,69.3 980,85.5 980.17,85.5 980.17,102.3 980.69,102.3 980.69,121.4 981,121.4 981,69.7 981.17,69.7 981.17,69.9 981.69,69.9 981.69,75.7 982,75.7 982,69.2 983.69,69.3 983.69,69.3 984,69.3 984,86.1 984.17,86.1 984.17,99.1 984.69,99.1 984.69,118.5 985,118.5 985,75.7 985.17,75.7 985.17,76.0 985.69,76.0 985.69,80.3 986,80.3 986,75.2 987.69,75.3 987.69,75.4 988,75.4 988,83.7 988.17,83.7 988.17,101.6 988.69,101.6 988.69,111.0 989,111.0 989,85.4 989.17,85.4 989.17,85.7 989.69,85.7 989.69,90.1 990,90.1 990,84.9 991.69,85.0 991.69,85.0 992,85.0 992,90.9 992.17,90.9 992.17,99.4 993,99.5 993,97.6 993.17,97.6 993.17,99.4 994,99.4 994,96.9 996,96.9 996,86.9 996.17,86.9 996.17,86.9 996.69,86.9 996.69,87.0 997,87.0 997,86.8 998,86.8 998,87.1 998.17,87.1 998.17,87.3 998.69,87.3 998.69,87.6 999,87.6 999,106.7 999.17,106.7 999.17,115.6 1000,115.6 1000,85.7 1000.17,85.7 1000.17,85.8 1000.69,85.8 1000.69,85.8 1001,85.8 1001,85.6 1002,85.6 1002,86.0 1002.17,86.0 1002.17,86.1 1002.69,86.1 1002.69,86.4 1003,86.4 1003,134.4 1003.17,134.4 1003.17,134.6 1003.69,134.6 1003.69,141.1 1004,141.1 1004,87.4 1004.17,87.4 1004.17,87.5 1004.69,87.5 1004.69,87.6 1005,87.6 1005,87.2 1006,87.3 1006,87.5 1006.17,87.5 1006.17,87.6 1006.69,87.6 1006.69,87.7 1007,87.7 1007,143.7 1007.17,143.7 1007.17,144.0 1007.69,144.0 1007.69,146.6 1008,146.6 1008,78.0 1008.17,78.0 1008.17,78.1 1008.69,78.1 1008.69,78.2 1009,78.2 1009,77.8 1010,77.9 1010,78.1 1010.17,78.1 1010.17,78.2 1010.69,78.2 1010.69,78.3 1011,78.3 1011,136.9 1012,136.9 1012,79.0 1012.17,79.0 1012.17,79.1 1012.69,79.1 1012.69,79.2 1013,79.2 1013,78.8 1014,78.9 1014,79.1 1014.17,79.1 1014.17,79.2 1014.69,79.2 1014.69,79.3 1015,79.3 1015,131.1 1016,131.1 1016,90.1 1016.17,90.1 1016.17,90.2 1016.69,90.2 1016.69,90.3 1017,90.3 1017,89.9 1018,89.9 1018,90.0 1018.17,90.0 1018.17,90.1 1018.69,90.1 1018.69,90.2 1019,90.2 1019,116.8 1020,116.8 1020,103.4 1020.17,103.4 1020.17,103.5 1020.69,103.5 1020.69,103.6 1021,103.6 1021,103.3 1022,103.3 1022,103.5 1022.17,103.5 1022.17,103.6 1022.69,103.6 1022.69,103.8 1023,103.8 1023,108.8 1024.69,108.9 1024.69,109.0 1025,109.0 1025,114.7 1025.17,114.7 1025.17,123.0 1026,123.1 1026,98.2 1026.17,98.2 1026.17,104.8 1026.69,104.8 1026.69,112.6 1027,112.6 1027,97.5 1029,97.5 1029,99.5 1029.17,99.5 1029.17,99.8 1029.69,99.8 1029.69,108.0 1030,108.0 1030,90.8 1030.17,90.8 1030.17,91.1 1030.69,91.1 1030.69,106.8 1031,106.8 1031,81.4 1031.69,81.4 1031.69,81.5 1032,81.5 1032,81.3 1033,81.4 1033,81.8 1033.17,81.8 1033.17,82.1 1033.69,82.1 1033.69,90.3 1034,90.3 1034,79.1 1034.17,79.1 1034.17,97.0 1034.69,97.0 1034.69,97.3 1035,97.3 1035,68.7 1036,68.8 1036,68.7 1037,68.8 1037,69.5 1037.17,69.5 1037.17,71.1 1037.69,71.1 1037.69,80.0 1038,80.0 1038,79.0 1038.17,79.0 1038.17,95.8 1038.69,95.8 1038.69,119.4 1039,119.4 1039,68.8 1039.69,68.8 1039.69,68.9 1040,68.9 1040,68.7 1041,68.7 1041,69.2 1041.17,69.2 1041.17,69.5 1041.69,69.5 1041.69,76.0 1042,76.0 1042,64.4 1042.17,64.4 1042.17,68.1 1042.69,68.1 1042.69,94.2 1043,94.2 1043,48.1 1043.69,48.1 1043.69,48.2 1044,48.2 1044,48.1 1045,48.1 1045,48.5 1045.17,48.5 1045.17,48.8 1045.69,48.8 1045.69,49.1 1046,49.1 1046,78.1 1046.17,78.1 1046.17,88.4 1047,88.4 1047,62.7 1047.69,62.8 1047.69,62.8 1048,62.8 1048,62.7 1049,62.7 1049,63.2 1049.17,63.2 1049.17,63.5 1049.69,63.5 1049.69,67.9 1050,67.9 1050,82.1 1051,82.1 1051,82.2 1051.17,82.2 1051.17,82.3 1051.69,82.3 1051.69,82.4 1053,82.3 1053,72.3 1053.17,72.3 1053.17,72.4 1053.69,72.4 1053.69,72.5 1054,72.5 1054,72.1 1055,72.1 1055,72.2 1055.13,72.2 1055.13,72.3 1055.51,72.3 1055.51,72.4 1055.83,72.4 1055.83,426.6 1055.51,426.6 1055.51,426.6 1055.13,426.6 1055.13,426.7 1055,426.7 1055,426.8 1054,426.8 1054,426.0 1053.69,426.0 1053.69,426.3 1053.17,426.3 1053.17,426.5 1053,426.5 1053,419.0 1052,419.0 1052,418.9 1051,419.0 1051,415.0 1050,415.0 1050,431.1 1049.69,431.1 1049.69,439.0 1049.17,439.0 1049.17,439.3 1049,439.3 1049,439.7 1048,439.7 1048,439.6 1047.69,439.6 1047.69,439.7 1047,439.7 1047,412.3 1046.69,412.3 1046.69,421.1 1046.17,421.1 1046.17,435.0 1046,435.0 1046,457.6 1045.69,457.6 1045.69,458.4 1045.17,458.4 1045.17,458.9 1045,458.9 1045,459.6 1044,459.6 1044,459.6 1043,459.6 1043,423.8 1042.69,423.8 1042.69,439.1 1042.17,439.1 1042.17,451.3 1042,451.3 1042,467.5 1041.69,467.5 1041.69,475.5 1041.17,475.5 1041.17,475.8 1041,475.8 1041,476.2 1040,476.2 1040,476.1 1039.69,476.1 1039.69,476.2 1039,476.2 1039,432.8 1038.69,432.8 1038.69,452.6 1038.17,452.6 1038.17,463.5 1038,463.5 1038,467.2 1037.69,467.2 1037.69,471.9 1037.17,471.9 1037.17,472.2 1037,472.2 1037,472.6 1036,472.6 1036,472.5 1035.69,472.5 1035.69,472.6 1035,472.6 1035,436.7 1034.69,436.7 1034.69,453.7 1034.17,453.7 1034.17,463.3 1034,463.3 1034,457.9 1033.69,457.9 1033.69,462.1 1033.17,462.1 1033.17,462.4 1033,462.4 1033,462.9 1032,462.9 1032,462.7 1031.69,462.7 1031.69,462.8 1031,462.8 1031,439.9 1030.69,439.9 1030.69,452.2 1030.17,452.2 1030.17,458.9 1030,458.9 1030,444.6 1029.69,444.6 1029.69,449.3 1029.17,449.3 1029.17,451.8 1029,451.8 1029,455.9 1028,456.0 1027,456.0 1027,443.8 1026.69,443.8 1026.69,451.8 1026.17,451.8 1026.17,455.3 1026,455.3 1026,436.4 1025.17,436.4 1025.17,442.4 1025,442.4 1025,445.0 1024.69,445.0 1024.69,445.1 1023.69,445.2 1023,445.2 1023,449.2 1022.69,449.2 1022.69,449.4 1022.17,449.4 1022.17,449.5 1022,449.5 1022,449.7 1021,449.7 1021,449.4 1020.69,449.4 1020.69,449.5 1020.17,449.5 1020.17,449.6 1020,449.6 1020,437.8 1019,437.8 1019,469.2 1018.69,469.2 1018.69,469.3 1018.17,469.3 1018.17,469.4 1018,469.4 1018,469.5 1017,469.6 1017,469.1 1016.69,469.1 1016.69,469.2 1016.17,469.2 1016.17,469.3 1016,469.3 1016,434.7 1015,434.7 1015,486.0 1014.69,486.0 1014.69,486.2 1014.17,486.2 1014.17,486.2 1014,486.2 1014,486.4 1013,486.4 1013,485.9 1012.69,485.9 1012.69,486.0 1012.17,486.0 1012.17,486.2 1012,486.2 1012,426.3 1011,426.3 1011,475.4 1010.69,475.4 1010.69,475.6 1010.17,475.6 1010.17,475.7 1010,475.7 1010,475.9 1009,475.9 1009,475.6 1008.69,475.6 1008.69,475.7 1008.17,475.7 1008.17,475.8 1008,475.8 1008,416.3 1007.69,416.3 1007.69,429.2 1007.17,429.2 1007.17,430.4 1007,430.4 1007,482.6 1006.69,482.6 1006.69,482.8 1006.17,482.8 1006.17,482.9 1006,482.9 1006,483.1 1005,483.1 1005,482.8 1004.69,482.8 1004.69,482.9 1004.17,482.9 1004.17,483.0 1004,483.0 1004,430.2 1003.69,430.2 1003.69,434.7 1003.17,434.7 1003.17,450.9 1003,450.9 1003,475.1 1002.69,475.1 1002.69,475.4 1002.17,475.4 1002.17,475.6 1002,475.6 1002,475.9 1001,475.9 1001,475.7 1000.69,475.7 1000.69,475.8 1000.17,475.8 1000.17,475.8 1000,475.8 1000,449.1 999.69,449.1 999.69,449.1 999.17,449.1 999.17,459.1 999,459.1 999,466.0 998.69,466.0 998.69,468.8 998.17,468.8 998.17,469.1 998,469.1 998,469.5 997,469.6 997,469.4 996.69,469.4 996.69,469.5 996,469.5 996,461.7 995.69,461.7 995.69,461.8 994.69,461.9 994,461.9 994,455.7 993.69,455.7 993.69,461.1 993.17,461.1 993.17,461.4 993,461.4 993,455.6 992,455.7 992,467.7 991,467.7 990,467.8 990,461.0 989.69,461.0 989.69,466.4 989.17,466.4 989.17,467.0 989,467.0 989,432.9 988.69,432.9 988.69,438.4 988.17,438.4 988.17,455.6 988,455.6 988,463.2 987,463.2 986,463.2 986,458.6 985.69,458.6 985.69,461.1 985.17,461.1 985.17,462.5 985,462.5 985,428.0 984.69,428.0 984.69,447.3 984.17,447.3 984.17,460.7 984,460.7 984,469.4 983.69,469.4 983.69,469.5 982.69,469.5 982,469.6 982,464.5 981.69,464.5 981.69,468.8 981.17,468.8 981.17,469.1 981,469.1 981,434.7 980.69,434.7 980.69,448.4 980.17,448.4 980.17,460.5 980,460.5 980,472.4 979.69,472.4 979.69,472.5 979.17,472.5 979.17,472.6 979,472.6 979,472.6 978,472.6 978,471.9 977.69,471.9 977.69,472.2 977.17,472.2 977.17,472.3 977,472.3 977,422.5 976.69,422.5 976.69,435.2 976.17,435.2 976.17,448.6 976,448.6 976,472.4 975.69,472.4 975.69,472.5 975.17,472.5 975.17,472.6 975,472.6 975,472.6 974,472.6 974,471.9 973.69,471.9 973.69,472.2 973.17,472.2 973.17,472.3 973,472.3 973,436.4 972.17,436.4 972.17,442.5 972,442.5 972,475.6 971.69,475.6 971.69,475.7 971.17,475.7 971.17,475.8 971,475.8 971,475.9 970,475.9 970,475.4 969.69,475.4 969.69,475.6 969.17,475.6 969.17,475.7 969,475.7 969,459.0 968,459.0 968,476.2 967.69,476.2 967.69,476.2 967.17,476.2 967.17,476.3 967,476.3 967,476.4 966,476.4 966,482.4 965.69,482.4 965.69,482.6 965.17,482.6 965.17,482.8 965,482.8 965,483.1 964,483.1 964,482.9 963.69,482.9 963.69,483.0 963.17,483.0 963.17,483.0 963,483.0 963,472.2 962,472.2 962,490.1 961.69,490.1 961.69,492.3 961.17,492.3 961.17,492.6 961,492.6 961,493.0 960,493.0 960,492.9 959.69,492.9 959.69,493.0 959,493.0 959,454.2 958.69,454.2 958.69,458.1 958.17,458.1 958.17,475.1 958,475.1 958,486.9 957.69,486.9 957.69,492.3 957.17,492.3 957.17,492.6 957,492.6 957,493.0 956,493.0 956,492.9 955.69,492.9 955.69,493.0 955,493.0 955,460.5 954.69,460.5 954.69,476.6 954.17,476.6 954.17,478.9 954,478.9 954,476.8 953.69,476.8 953.69,485.4 953.17,485.4 953.17,485.7 953,485.7 953,486.3 952,486.4 952,486.3 951,486.4 951,466.3 950.69,466.3 950.69,476.4 950.17,476.4 950.17,485.3 950,485.3 950,472.3 949.69,472.3 949.69,487.9 949.17,487.9 949.17,495.5 949,495.5 949,496.3 948,496.3 948,496.2 947,496.3 947,480.6 946.69,480.6 946.69,492.3 946.17,492.3 946.17,492.9 946,492.9 946,458.4 945.69,458.4 945.69,475.1 945.17,475.1 945.17,482.1 945,482.1 945,486.3 944,486.4 943,486.4 943,474.9 942.69,474.9 942.69,481.2 942.17,481.2 942.17,485.6 942,485.6 942,449.3 941.69,449.3 941.69,459.6 941.17,459.6 941.17,468.4 941,468.4 941,472.1 940.69,472.1 940.69,472.2 939.69,472.3 939,472.3 939,461.3 938.69,461.3 938.69,471.5 938.17,471.5 938.17,471.8 938,471.8 938,453.0 937,453.0 937,452.7 936.69,452.7 936.69,452.8 936.17,452.8 936.17,452.9 936,452.9 936,451.4 935,451.5 935,458.4 934.69,458.4 934.69,458.5 934.17,458.5 934.17,458.6 934,458.6 934,458.7 933,458.7 933,458.2 932.69,458.2 932.69,458.4 932.17,458.4 932.17,458.5 932,458.5 932,438.4 931,438.4 931,479.2 930.69,479.2 930.69,479.3 930.17,479.3 930.17,479.4 930,479.4 930,479.5 929,479.5 929,479.0 928.69,479.0 928.69,479.2 928.17,479.2 928.17,479.3 928,479.3 928,440.0 927.69,440.0 927.69,447.6 927.17,447.6 927.17,447.9 927,447.9 927,492.3 926.69,492.3 926.69,492.6 926.17,492.6 926.17,492.7 926,492.7 926,493.0 925,493.0 925,492.8 924.69,492.8 924.69,492.9 924.17,492.9 924.17,493.0 924,493.0 924,435.8 923.69,435.8 923.69,453.6 923.17,453.6 923.17,471.3 923,471.3 923,492.6 922.69,492.6 922.69,492.7 922.17,492.7 922.17,492.8 922,492.8 922,493.0 921,493.0 921,492.7 920.69,492.7 920.69,492.8 920.17,492.8 920.17,492.9 920,492.9 920,443.3 919.69,443.3 919.69,446.9 919.17,446.9 919.17,465.4 919,465.4 919,504.9 918.69,504.9 918.69,505.2 918.17,505.2 918.17,505.4 918,505.4 918,505.7 917,505.7 917,505.5 916.69,505.5 916.69,505.6 916.17,505.6 916.17,505.6 916,505.6 916,448.2 915.17,448.3 915.17,470.7 915,470.7 915,482.4 914.69,482.4 914.69,482.6 914.17,482.6 914.17,482.8 914,482.8 914,483.1 913,483.1 913,482.9 912.69,482.9 912.69,483.0 912.17,483.0 912.17,483.0 912,483.0 912,458.5 911.17,458.6 911.17,462.1 911,462.1 911,478.7 910.69,478.7 910.69,479.0 910.17,479.0 910.17,479.2 910,479.2 910,479.5 909,479.5 909,479.3 908.69,479.3 908.69,479.4 908.17,479.4 908.17,479.4 908,479.4 908,469.4 907,469.4 906,469.4 906,459.2 905.69,459.2 905.69,467.5 905.17,467.5 905.17,468.7 905,468.7 905,454.5 904.17,454.5 904.17,467.4 904,467.4 904,479.3 903.69,479.3 903.69,479.4 903.17,479.4 903.17,479.4 903,479.4 903,479.5 902,479.5 902,478.7 901.69,478.7 901.69,479.0 901.17,479.0 901.17,479.2 901,479.2 901,435.9 900.69,435.9 900.69,452.3 900.17,452.3 900.17,463.3 900,463.3 900,489.6 899.69,489.6 899.69,489.7 899.17,489.7 899.17,489.7 899,489.7 899,489.8 898,489.8 898,489.0 897.69,489.0 897.69,489.3 897.17,489.3 897.17,489.5 897,489.5 897,437.8 896.69,437.8 896.69,450.1 896.17,450.1 896.17,473.7 896,473.7 896,504.7 895.69,504.7 895.69,504.7 894.69,504.8 894,504.8 894,503.3 893.69,503.3 893.69,504.0 893.17,504.0 893.17,504.3 893,504.3 893,433.6 892.17,433.6 892.17,454.4 892,454.4 892,486.2 891.69,486.2 891.69,486.2 891.17,486.2 891.17,486.3 891,486.3 891,486.4 890,486.4 890,485.6 889.69,485.6 889.69,485.9 889.17,485.9 889.17,486.0 889,486.0 889,427.2 888.17,427.2 888.17,444.9 888,444.9 888,475.6 887.69,475.6 887.69,475.7 887.17,475.7 887.17,475.8 887,475.8 887,475.9 886,475.9 886,475.4 885.69,475.4 885.69,475.6 885.17,475.6 885.17,475.7 885,475.7 885,429.9 884.17,429.9 884.17,435.7 884,435.7 884,455.7 883.69,455.7 883.69,455.8 883.17,455.8 883.17,455.9 883,455.9 883,456.0 882,456.0 882,455.5 881.69,455.5 881.69,455.7 881.17,455.7 881.17,455.8 881,455.8 881,442.4 880,442.4 880,448.0 879.69,448.0 879.69,448.1 879.17,448.1 879.17,448.2 879,448.2 879,448.3 878,448.3 878,458.2 877.69,458.2 877.69,463.9 877.17,463.9 877.17,468.8 877,468.8 877,469.5 876,469.6 876,469.5 875,469.5 875,458.5 874.69,458.5 874.69,458.8 874.17,458.8 874.17,466.4 874,466.4 874,466.7 873.69,466.7 873.69,479.1 873.17,479.1 873.17,479.4 873,479.4 873,483.0 872,483.1 871,483.1 871,461.9 870.69,461.9 870.69,476.0 870.17,476.0 870.17,482.4 870,482.4 870,469.6 869.69,469.6 869.69,473.0 869.17,473.0 869.17,480.6 869,480.6 869,481.3 868,481.3 868,481.2 867,481.3 867,453.8 866.69,453.8 866.69,467.3 866.17,467.3 866.17,477.9 866,477.9 866,470.8 865.69,470.8 865.69,487.6 865.17,487.6 865.17,492.3 865,492.3 865,493.0 864,493.0 864,493.0 863,493.0 863,463.9 862.69,463.9 862.69,477.2 862.17,477.2 862.17,487.1 862,487.1 862,465.9 861.69,465.9 861.69,478.5 861.17,478.5 861.17,482.4 861,482.4 861,483.1 860,483.1 860,483.0 859,483.1 859,461.0 858.69,461.0 858.69,473.4 858.17,473.4 858.17,480.0 858,480.0 858,460.8 857.69,460.8 857.69,473.9 857.17,473.9 857.17,478.7 857,478.7 857,479.5 856,479.5 856,479.4 855,479.5 855,460.4 854.69,460.4 854.69,472.3 854.17,472.3 854.17,474.6 854,474.6 854,440.9 853.69,440.9 853.69,442.0 853.17,442.0 853.17,444.3 853,444.3 853,446.0 852,446.1 851,446.1 851,442.0 850.69,442.0 850.69,444.3 850.17,444.3 850.17,445.3 850,445.3 850,438.8 849,438.8 849,438.4 848.69,438.4 848.69,438.6 848.17,438.6 848.17,438.6 848,438.6 848,425.2 847,425.2 847,471.9 846.69,471.9 846.69,472.2 846.17,472.2 846.17,472.3 846,472.3 846,472.6 845,472.6 845,472.4 844.69,472.4 844.69,472.5 844.17,472.5 844.17,472.6 844,472.6 844,422.9 843.69,422.9 843.69,428.9 843.17,428.9 843.17,429.7 843,429.7 843,472.2 842.69,472.2 842.69,472.3 842.17,472.3 842.17,472.4 842,472.4 842,472.6 841,472.6 841,472.3 840.69,472.3 840.69,472.4 840.17,472.4 840.17,472.5 840,472.5 840,408.5 839.69,408.5 839.69,409.8 839.17,409.8 839.17,436.3 839,436.3 839,469.1 838.69,469.1 838.69,469.2 838.17,469.2 838.17,469.3 838,469.3 838,469.5 837,469.6 837,469.2 836.69,469.2 836.69,469.3 836.17,469.3 836.17,469.4 836,469.4 836,413.7 835.17,413.7 835.17,429.4 835,429.4 835,485.6 834.69,485.6 834.69,485.9 834.17,485.9 834.17,486.0 834,486.0 834,486.4 833,486.4 833,486.2 832.69,486.2 832.69,486.2 832.17,486.2 832.17,486.3 832,486.3 832,416.2 831.69,416.2 831.69,434.6 831.17,434.6 831.17,444.5 831,444.5 831,458.5 830.69,458.5 830.69,458.8 830.17,458.8 830.17,458.9 830,458.9 830,459.3 829,459.3 829,459.1 828.69,459.1 828.69,459.1 828.17,459.1 828.17,459.2 828,459.2 828,416.7 827.69,416.7 827.69,423.3 827.17,423.3 827.17,436.4 827,436.4 827,441.7 826.69,441.7 826.69,442.0 826.17,442.0 826.17,442.1 826,442.1 826,442.4 825,442.5 825,442.2 824.69,442.2 824.69,442.3 824.17,442.3 824.17,442.4 824,442.4 824,427.6 823.69,427.6 823.69,427.7 823.17,427.7 823.17,429.8 823,429.8 823,427.7 822,427.8 822,427.0 821.69,427.0 821.69,427.3 821.17,427.3 821.17,427.4 821,427.4 821,422.0 820.17,422.0 820.17,433.3 820,433.3 820,452.2 819.69,452.2 819.69,452.3 819.17,452.3 819.17,452.3 819,452.3 819,452.4 818,452.4 818,451.6 817.69,451.6 817.69,451.9 817.17,451.9 817.17,452.1 817,452.1 817,427.2 816.69,427.2 816.69,451.2 816.17,451.2 816.17,459.5 816,459.5 816,486.2 815.69,486.2 815.69,486.3 814.69,486.4 814,486.4 814,482.1 813.69,482.1 813.69,485.6 813.17,485.6 813.17,485.9 813,485.9 813,430.3 812.69,430.3 812.69,434.5 812.17,434.5 812.17,459.9 812,459.9 812,483.0 811.69,483.0 811.69,483.0 810.69,483.1 810,483.1 810,480.2 809.69,480.2 809.69,482.4 809.17,482.4 809.17,482.6 809,482.6 809,424.3 808.69,424.3 808.69,450.7 808.17,450.7 808.17,473.6 808,473.6 808,496.5 807.69,496.5 807.69,496.6 806.69,496.7 806,496.7 806,494.1 805.69,494.1 805.69,495.9 805.17,495.9 805.17,496.2 805,496.2 805,433.1 804.69,433.1 804.69,450.2 804.17,450.2 804.17,467.8 804,467.8 804,489.3 803.69,489.3 803.69,489.4 802.69,489.4 802,489.4 802,487.3 801.69,487.3 801.69,488.7 801.17,488.7 801.17,489.0 801,489.0 801,440.6 800.17,440.6 800.17,446.1 800,446.1 800,472.3 799.69,472.3 799.69,472.4 799.17,472.4 799.17,472.5 799,472.5 799,472.6 798,472.6 798,472.2 797.69,472.2 797.69,472.3 797.17,472.3 797.17,472.4 797,472.4 797,457.9 796,457.9 796,465.6 795.69,465.6 795.69,465.7 795.17,465.7 795.17,465.8 795,465.8 795,466.0 794,466.0 794,469.4 793.69,469.4 793.69,473.8 793.17,473.8 793.17,478.7 793,478.7 793,479.5 792,479.5 792,479.4 791,479.5 791,458.1 790.69,458.1 790.69,473.1 790.17,473.1 790.17,473.4 790,473.4 790,464.7 789.69,464.7 789.69,476.9 789.17,476.9 789.17,477.2 789,477.2 789,477.7 788,477.7 788,477.6 787.69,477.6 787.69,477.6 787,477.7 787,444.0 786.69,444.0 786.69,464.2 786.17,464.2 786.17,476.6 786,476.6 786,479.5 785.69,479.5 785.69,479.7 785.17,479.7 785.17,485.1 785,485.1 785,485.8 784,485.8 784,485.7 783,485.8 783,450.3 782.69,450.3 782.69,467.1 782.17,467.1 782.17,480.7 782,480.7 782,478.3 781.69,478.3 781.69,491.8 781.17,491.8 781.17,495.9 781,495.9 781,496.6 780,496.7 780,496.6 779,496.7 779,476.9 778.69,476.9 778.69,480.6 778.17,480.6 778.17,490.5 778,490.5 778,486.3 777.69,486.3 777.69,497.5 777.17,497.5 777.17,503.1 777,503.1 777,503.9 776,503.9 776,503.8 775,503.9 775,485.2 774.69,485.2 774.69,496.2 774.17,496.2 774.17,501.2 774,501.2 774,465.5 773.69,465.5 773.69,475.9 773.17,475.9 773.17,482.4 773,482.4 773,483.1 772,483.1 772,483.0 771,483.1 771,475.4 770.69,475.4 770.69,479.1 770.17,479.1 770.17,482.2 770,482.2 770,452.0 769.69,452.0 769.69,455.7 769.17,455.7 769.17,464.5 769,464.5 769,469.4 768.69,469.4 768.69,469.5 767.69,469.5 767,469.6 767,466.0 766.69,466.0 766.69,468.8 766.17,468.8 766.17,469.1 766,469.1 766,465.1 765,465.1 765,464.8 764.69,464.8 764.69,464.9 764.17,464.9 764.17,465.0 764,465.0 764,459.2 763,459.2 763,479.0 762.69,479.0 762.69,479.2 762.17,479.2 762.17,479.3 762,479.3 762,479.5 761,479.5 761,479.2 760.69,479.2 760.69,479.3 760.17,479.3 760.17,479.4 760,479.4 760,442.0 759,442.0 759,473.6 758.69,473.6 758.69,473.8 758.17,473.8 758.17,473.9 758,473.9 758,474.1 757,474.1 757,473.8 756.69,473.8 756.69,473.9 756.17,473.9 756.17,473.9 756,473.9 756,426.6 755,426.6 755,489.1 754.69,489.1 754.69,489.2 754.17,489.2 754.17,489.3 754,489.3 754,489.4 753,489.4 753,489.0 752.69,489.0 752.69,489.1 752.17,489.1 752.17,489.2 752,489.2 752,422.8 751.69,422.8 751.69,425.2 751.17,425.2 751.17,442.1 751,442.1 751,475.1 750.69,475.1 750.69,475.4 750.17,475.4 750.17,475.6 750,475.6 750,475.9 749,475.9 749,475.7 748.69,475.7 748.69,475.8 748.17,475.8 748.17,475.8 748,475.8 748,420.5 747.69,420.5 747.69,440.9 747.17,440.9 747.17,443.2 747,443.2 747,468.8 746.69,468.8 746.69,469.1 746.17,469.1 746.17,469.2 746,469.2 746,469.5 745,469.6 745,469.3 744.69,469.3 744.69,469.4 744.17,469.4 744.17,469.5 744,469.5 744,434.6 743.69,434.6 743.69,442.9 743.17,442.9 743.17,455.2 743,455.2 743,463.1 742.69,463.1 742.69,468.8 742.17,468.8 742.17,469.1 742,469.1 742,469.5 741,469.6 741,469.4 740.69,469.4 740.69,469.5 740,469.5 740,447.9 739.69,447.9 739.69,447.9 739.17,447.9 739.17,459.9 739,459.9 739,448.0 738.69,448.0 738.69,448.6 738.17,448.6 738.17,449.9 738,449.9 738,450.7 737,450.7 737,450.6 736,450.7 736,454.1 735.69,454.1 735.69,454.1 734.69,454.2 734,454.2 734,452.0 733.69,452.0 733.69,453.5 733.17,453.5 733.17,453.7 733,453.7 733,436.7 732.69,436.7 732.69,449.6 732.17,449.6 732.17,450.0 732,450.0 732,469.1 731.69,469.1 731.69,469.1 730.69,469.2 730,469.2 730,466.2 729.69,466.2 729.69,468.4 729.17,468.4 729.17,468.7 729,468.7 729,425.6 728.69,425.6 728.69,439.2 728.17,439.2 728.17,453.7 728,453.7 728,472.4 727.69,472.4 727.69,472.5 727.17,472.5 727.17,472.6 727,472.6 727,472.6 726,472.6 726,471.9 725.69,471.9 725.69,472.2 725.17,472.2 725.17,472.3 725,472.3 725,424.5 724.69,424.5 724.69,438.7 724.17,438.7 724.17,454.8 724,454.8 724,479.3 723.69,479.3 723.69,479.4 723.17,479.4 723.17,479.4 723,479.4 723,479.5 722,479.5 722,478.7 721.69,478.7 721.69,479.0 721.17,479.0 721.17,479.2 721,479.2 721,419.3 720.69,419.3 720.69,431.2 720.17,431.2 720.17,446.7 720,446.7 720,479.3 719.69,479.3 719.69,479.4 719.17,479.4 719.17,479.4 719,479.4 719,479.5 718,479.5 718,478.7 717.69,478.7 717.69,479.0 717.17,479.0 717.17,479.2 717,479.2 717,441.6 716.17,441.6 716.17,449.1 716,449.1 716,492.7 715.69,492.7 715.69,492.8 715.17,492.8 715.17,492.9 715,492.9 715,493.0 714,493.0 714,492.6 713.69,492.6 713.69,492.7 713.17,492.7 713.17,492.8 713,492.8 713,449.3 712,449.3 712,464.7 711.69,464.7 711.69,464.8 711.17,464.8 711.17,464.9 711,464.9 711,465.0 710,465.0 710,464.6 709.69,464.6 709.69,464.7 709.17,464.7 709.17,464.8 709,464.8 709,454.7 708,454.7 708,454.5 707.69,454.5 707.69,454.6 707,454.6 707,452.5 706,452.5 706,462.2 705.69,462.2 705.69,465.2 705.17,465.2 705.17,465.5 705,465.5 705,465.9 704,465.9 704,465.8 703.69,465.8 703.69,465.9 703,465.9 703,434.5 702.69,434.5 702.69,442.5 702.17,442.5 702.17,457.4 702,457.4 702,466.1 701.69,466.1 701.69,466.4 701.17,466.4 701.17,468.8 701,468.8 701,469.5 700,469.6 700,469.5 699,469.5 699,454.4 698.69,454.4 698.69,454.7 698.17,454.7 698.17,464.6 698,464.6 698,434.2 697.69,434.2 697.69,448.3 697.17,448.3 697.17,458.1 697,458.1 697,459.1 696.69,459.1 696.69,459.2 695.69,459.3 695,459.3 695,449.9 694.69,449.9 694.69,458.5 694.17,458.5 694.17,458.8 694,458.8 694,435.5 693.69,435.5 693.69,455.8 693.17,455.8 693.17,459.7 693,459.7 693,469.4 692.69,469.4 692.69,469.5 691.69,469.5 691,469.6 691,457.6 690.69,457.6 690.69,468.8 690.17,468.8 690.17,469.1 690,469.1 690,441.6 689.69,441.6 689.69,449.9 689.17,449.9 689.17,467.7 689,467.7 689,475.8 688,475.9 687,475.9 687,464.6 686.69,464.6 686.69,469.7 686.17,469.7 686.17,475.1 686,475.1 686,425.5 685.69,425.5 685.69,437.0 685.17,437.0 685.17,450.1 685,450.1 685,454.1 684.69,454.1 684.69,454.1 683.69,454.2 683,454.2 683,447.9 682.69,447.9 682.69,453.5 682.17,453.5 682.17,453.7 682,453.7 682,434.9 681.17,434.9 681.17,443.2 681,443.2 681,447.8 680,447.9 679,447.9 679,442.9 678.69,442.9 678.69,443.1 678.17,443.1 678.17,447.1 678,447.1 678,443.4 677,443.4 677,443.2 676.69,443.2 676.69,443.2 676.17,443.2 676.17,443.3 676,443.3 676,425.6 675,425.6 675,453.5 674.69,453.5 674.69,453.7 674.17,453.7 674.17,453.9 674,453.9 674,454.2 673,454.2 673,454.0 672.69,454.0 672.69,454.1 672.17,454.1 672.17,454.1 672,454.1 672,419.5 671.69,419.5 671.69,419.8 671.17,419.8 671.17,429.8 671,429.8 671,481.8 670.69,481.8 670.69,482.1 670.17,482.1 670.17,482.2 670,482.2 670,482.6 669,482.6 669,482.4 668.69,482.4 668.69,482.4 668.17,482.4 668.17,482.5 668,482.5 668,438.9 667.69,438.9 667.69,456.5 667.17,456.5 667.17,456.7 667,456.7 667,481.8 666.69,481.8 666.69,482.1 666.17,482.1 666.17,482.2 666,482.2 666,482.6 665,482.6 665,482.4 664.69,482.4 664.69,482.4 664.17,482.4 664.17,482.5 664,482.5 664,422.4 663.69,422.4 663.69,445.5 663.17,445.5 663.17,466.9 663,466.9 663,485.1 662.69,485.1 662.69,485.3 662.17,485.3 662.17,485.5 662,485.5 662,485.8 661,485.8 661,485.6 660.69,485.6 660.69,485.7 660.17,485.7 660.17,485.7 660,485.7 660,430.9 659.69,430.9 659.69,439.9 659.17,439.9 659.17,459.5 659,459.5 659,475.1 658.69,475.1 658.69,475.4 658.17,475.4 658.17,475.6 658,475.6 658,475.9 657,475.9 657,475.7 656.69,475.7 656.69,475.8 656.17,475.8 656.17,475.8 656,475.8 656,438.0 655.17,438.0 655.17,453.6 655,453.6 655,461.0 654.69,461.0 654.69,463.7 654.17,463.7 654.17,464.0 654,464.0 654,464.5 653,464.5 653,464.4 652.69,464.4 652.69,464.4 652,464.5 652,450.0 651.69,450.0 651.69,450.1 650.69,450.1 650,450.2 650,446.7 649.69,446.7 649.69,449.4 649.17,449.4 649.17,449.7 649,449.7 649,446.6 648.69,446.6 648.69,446.7 648,446.7 648,463.8 647.69,463.8 647.69,463.9 647.17,463.9 647.17,464.0 647,464.0 647,464.1 646,464.1 646,463.7 645.69,463.7 645.69,463.8 645.17,463.8 645.17,463.9 645,463.9 645,419.6 644.17,419.6 644.17,425.4 644,425.4 644,462.9 643.69,462.9 643.69,463.0 643.17,463.0 643.17,463.1 643,463.1 643,463.2 642,463.2 642,462.8 641.69,462.8 641.69,462.9 641.17,462.9 641.17,463.0 641,463.0 641,408.3 640.17,408.3 640.17,432.3 640,432.3 640,472.4 639.69,472.4 639.69,472.5 639.17,472.5 639.17,472.6 639,472.6 639,472.6 638,472.6 638,471.9 637.69,471.9 637.69,472.2 637.17,472.2 637.17,472.3 637,472.3 637,413.4 636.17,413.4 636.17,424.7 636,424.7 636,478.8 635.69,478.8 635.69,478.9 635.17,478.9 635.17,479.0 635,479.0 635,479.1 634,479.1 634,478.7 633.69,478.7 633.69,478.8 633.17,478.8 633.17,478.9 633,478.9 633,415.4 632.17,415.4 632.17,424.2 632,424.2 632,465.7 631.69,465.7 631.69,465.8 631.17,465.8 631.17,465.9 631,465.9 631,465.9 630,465.9 630,465.2 629.69,465.2 629.69,465.5 629.17,465.5 629.17,465.6 629,465.6 629,421.0 628.17,421.0 628.17,431.6 628,431.6 628,459.1 627.69,459.1 627.69,459.1 627.17,459.1 627.17,459.2 627,459.2 627,459.3 626,459.3 626,458.5 625.69,458.5 625.69,458.8 625.17,458.8 625.17,458.9 625,458.9 625,429.7 624,429.7 624,435.6 623.69,435.6 623.69,435.7 623.17,435.7 623.17,435.8 623,435.8 623,436.0 622,436.0 622,435.9 621.69,435.9 621.69,438.2 621.17,438.2 621.17,443.3 621,443.3 621,444.0 620,444.0 620,443.9 619,444.0 619,431.4 618.69,431.4 618.69,437.3 618.17,437.3 618.17,441.6 618,441.6 618,438.1 617.69,438.1 617.69,451.2 617.17,451.2 617.17,456.6 617,456.6 617,459.2 616,459.3 615,459.3 615,452.6 614.69,452.6 614.69,452.9 614.17,452.9 614.17,458.5 614,458.5 614,448.9 613.69,448.9 613.69,464.4 613.17,464.4 613.17,475.1 613,475.1 613,475.9 612,475.9 612,475.8 611,475.9 611,458.3 610.69,458.3 610.69,472.9 610.17,472.9 610.17,473.2 610,473.2 610,468.0 609.69,468.0 609.69,484.9 609.17,484.9 609.17,485.2 609,485.2 609,489.4 608,489.4 607,489.4 607,463.9 606.69,463.9 606.69,477.9 606.17,477.9 606.17,488.7 606,488.7 606,443.2 605.69,443.2 605.69,459.7 605.17,459.7 605.17,471.5 605,471.5 605,472.2 604,472.3 603,472.3 603,459.3 602.69,459.3 602.69,466.2 602.17,466.2 602.17,471.5 602,471.5 602,440.7 601.69,440.7 601.69,456.4 601.17,456.4 601.17,465.8 601,465.8 601,470.8 600,470.8 599,470.8 599,455.6 598.69,455.6 598.69,464.7 598.17,464.7 598.17,470.1 598,470.1 598,433.3 597.69,433.3 597.69,440.5 597.17,440.5 597.17,449.1 597,449.1 597,454.1 596,454.2 595,454.2 595,456.7 594.69,456.7 594.69,457.0 594.17,457.0 594.17,457.1 594,457.1 594,457.4 593,457.5 593,457.2 592.69,457.2 592.69,457.3 592.17,457.3 592.17,457.4 592,457.4 592,434.5 591.17,434.5 591.17,434.8 591,434.8 591,457.1 590.69,457.1 590.69,457.3 590.17,457.3 590.17,457.5 590,457.5 590,457.8 589,457.8 589,457.6 588.69,457.6 588.69,457.7 588.17,457.7 588.17,457.7 588,457.7 588,419.9 587.17,419.9 587.17,430.8 587,430.8 587,473.3 586.69,473.3 586.69,473.6 586.17,473.6 586.17,473.8 586,473.8 586,474.1 585,474.1 585,473.9 584.69,473.9 584.69,473.9 584.17,473.9 584.17,474.0 584,474.0 584,415.4 583.69,415.4 583.69,429.1 583.17,429.1 583.17,437.7 583,437.7 583,470.1 582.69,470.1 582.69,470.3 582.17,470.3 582.17,470.5 582,470.5 582,470.8 581,470.8 581,470.6 580.69,470.6 580.69,470.7 580.17,470.7 580.17,470.8 580,470.8 580,409.4 579.69,409.4 579.69,415.5 579.17,415.5 579.17,441.4 579,441.4 579,473.6 578.69,473.6 578.69,473.8 578.17,473.8 578.17,473.9 578,473.9 578,474.1 577,474.1 577,473.8 576.69,473.8 576.69,473.9 576.17,473.9 576.17,473.9 576,473.9 576,420.0 575.69,420.0 575.69,421.1 575.17,421.1 575.17,440.5 575,440.5 575,459.8 574.69,459.8 574.69,460.0 574.17,460.0 574.17,460.2 574,460.2 574,460.5 573,460.5 573,460.3 572.69,460.3 572.69,460.4 572.17,460.4 572.17,460.5 572,460.5 572,422.6 571.69,422.6 571.69,438.2 571.17,438.2 571.17,440.8 571,440.8 571,442.5 570.69,442.5 570.69,445.4 570.17,445.4 570.17,445.7 570,445.7 570,446.2 569,446.2 569,446.0 568.69,446.0 568.69,446.1 568,446.1 568,435.1 567.69,435.1 567.69,435.2 567.17,435.2 567.17,440.9 567,440.9 567,435.4 566.17,435.4 566.17,436.0 566,436.0 566,436.7 565,436.7 565,436.7 564,436.7 564,453.9 563.69,453.9 563.69,454.0 563.17,454.0 563.17,454.1 563,454.1 563,454.2 562,454.2 562,453.7 561.69,453.7 561.69,453.9 561.17,453.9 561.17,454.0 561,454.0 561,426.1 560.17,426.1 560.17,435.6 560,435.6 560,460.3 559.69,460.3 559.69,460.4 559.17,460.4 559.17,460.5 559,460.5 559,460.5 558,460.5 558,459.8 557.69,459.8 557.69,460.0 557.17,460.0 557.17,460.2 557,460.2 557,415.6 556.69,415.6 556.69,428.2 556.17,428.2 556.17,434.2 556,434.2 556,470.6 555.69,470.6 555.69,470.7 555.17,470.7 555.17,470.8 555,470.8 555,470.8 554,470.8 554,470.1 553.69,470.1 553.69,470.3 553.17,470.3 553.17,470.5 553,470.5 553,416.2 552.69,416.2 552.69,416.5 552.17,416.5 552.17,438.2 552,438.2 552,470.6 551.69,470.6 551.69,470.7 551.17,470.7 551.17,470.8 551,470.8 551,470.8 550,470.8 550,470.1 549.69,470.1 549.69,470.3 549.17,470.3 549.17,470.5 549,470.5 549,403.1 548.69,403.1 548.69,409.3 548.17,409.3 548.17,423.9 548,423.9 548,457.2 547.69,457.2 547.69,457.3 547.17,457.3 547.17,457.4 547,457.4 547,457.4 546,457.5 546,456.7 545.69,456.7 545.69,457.0 545.17,457.0 545.17,457.1 545,457.1 545,413.1 544,413.2 544,447.0 543.69,447.0 543.69,447.2 543.17,447.2 543.17,447.3 543,447.3 543,447.5 542,447.5 542,447.2 541.69,447.2 541.69,447.3 541.17,447.3 541.17,447.4 541,447.4 541,432.8 540,432.9 540,443.3 539.69,443.3 539.69,443.4 539.17,443.4 539.17,443.5 539,443.5 539,443.7 538,443.8 538,443.6 537.69,443.6 537.69,444.3 537.17,444.3 537.17,448.9 537,448.9 537,449.7 536,449.7 536,449.6 535,449.7 535,428.6 534.69,428.6 534.69,440.3 534.17,440.3 534.17,448.0 534,448.0 534,431.6 533.69,431.6 533.69,439.9 533.17,439.9 533.17,443.5 533,443.5 533,444.2 532,444.3 532,444.2 531,444.3 531,424.7 530.69,424.7 530.69,429.7 530.17,429.7 530.17,442.4 530,442.4 530,444.7 529.69,444.7 529.69,458.0 529.17,458.0 529.17,458.2 529,458.2 529,460.5 528,460.5 527,460.5 527,432.1 526.69,432.1 526.69,450.2 526.17,450.2 526.17,459.8 526,459.8 526,453.5 525.69,453.5 525.69,453.8 525.17,453.8 525.17,459.8 525,459.8 525,460.5 524,460.5 524,460.5 523,460.5 523,439.6 522.69,439.6 522.69,450.9 522.17,450.9 522.17,457.8 522,457.8 522,436.6 521.69,436.6 521.69,446.5 521.17,446.5 521.17,455.2 521,455.2 521,460.5 520,460.5 519,460.5 519,457.8 518.69,457.8 518.69,458.0 518.17,458.0 518.17,459.8 518,459.8 518,421.8 517.69,421.8 517.69,438.0 517.17,438.0 517.17,451.8 517,451.8 517,460.4 516.69,460.4 516.69,460.5 515.69,460.5 515,460.5 515,458.4 514.69,458.4 514.69,459.8 514.17,459.8 514.17,460.0 514,460.0 514,434.1 513.17,434.1 513.17,444.9 513,444.9 513,464.0 512.69,464.0 512.69,464.1 511.69,464.1 511,464.1 511,460.9 510.69,460.9 510.69,463.4 510.17,463.4 510.17,463.7 510,463.7 510,448.0 509,448.0 509,448.0 508.69,448.0 508.69,448.1 507.69,448.2 507,448.2 507,453.7 506.69,453.7 506.69,453.9 506.17,453.9 506.17,454.0 506,454.0 506,454.2 505,454.2 505,453.9 504.69,453.9 504.69,454.0 504.17,454.0 504.17,454.1 504,454.1 504,428.0 503.17,428.0 503.17,434.6 503,434.6 503,428.0 501.86,428.0ZM498.76,170.3 500.84,170.3 503.94,393.6 501.86,393.7Z"/>
</g>
<g stroke-width="2.08" stroke-dasharray="7.71 3.33" fill="none">
<line x1="44.5" y1="102" x2="1102.5" y2="102" stroke="#800080"/><line x1="44.5" y1="143" x2="1102.5" y2="143" stroke="#000000"/><line x1="44.5" y1="153" x2="1102.5" y2="153" stroke="#ff0000"/><line x1="44.5" y1="260" x2="1102.5" y2="260" stroke="#ffa500"/><line x1="44.5" y1="277" x2="1102.5" y2="277" stroke="#008000"/><line x1="44.5" y1="401" x2="1102.5" y2="401" stroke="#0000ff"/><line x1="44.5" y1="410" x2="1102.5" y2="410" stroke="#808080"/><line x1="44.5" y1="450" x2="1102.5" y2="450" stroke="#ffc0cb"/>
</g>
<rect x="44.5" y="23.5" width="1058.0" height="510.0" fill="none" stroke="#000" stroke-width="1.11"/>
<g stroke="#000" stroke-width="1.11">
<line x1="142.5" y1="533.5" x2="142.5" y2="538.36"/><line x1="244.5" y1="533.5" x2="244.5" y2="538.36"/><line x1="345.5" y1="533.5" x2="345.5" y2="538.36"/><line x1="446.5" y1="533.5" x2="446.5" y2="538.36"/><line x1="548.5" y1="533.5" x2="548.5" y2="538.36"/><line x1="649.5" y1="533.5" x2="649.5" y2="538.36"/><line x1="750.5" y1="533.5" x2="750.5" y2="538.36"/><line x1="852.5" y1="533.5" x2="852.5" y2="538.36"/><line x1="953.5" y1="533.5" x2="953.5" y2="538.36"/><line x1="1054.5" y1="533.5" x2="1054.5" y2="538.36"/><line x1="44.5" y1="529.5" x2="39.64" y2="529.5"/><line x1="44.5" y1="419.5" x2="39.64" y2="419.5"/><line x1="44.5" y1="310.5" x2="39.64" y2="310.5"/><line x1="44.5" y1="200.5" x2="39.64" y2="200.5"/><line x1="44.5" y1="91.5" x2="39.64" y2="91.5"/>
</g>
<g class="t">
<text x="142.5" y="553.9" text-anchor="middle" textLength="34.3" lengthAdjust="spacingAndGlyphs">1984</text><text x="244.5" y="553.9" text-anchor="middle" textLength="34.3" lengthAdjust="spacingAndGlyphs">1986</text><text x="345.5" y="553.9" text-anchor="middle" textLength="34.3" lengthAdjust="spacingAndGlyphs">1988</text><text x="446.5" y="553.9" text-anchor="middle" textLength="34.3" lengthAdjust="spacingAndGlyphs">1990</text><text x="548.5" y="553.9" text-anchor="middle" textLength="34.3" lengthAdjust="spacingAndGlyphs">1992</text><text x="649.5" y="553.9" text-anchor="middle" textLength="34.3" lengthAdjust="spacingAndGlyphs">1994</text><text x="750.5" y="553.9" text-anchor="middle" textLength="34.3" lengthAdjust="spacingAndGlyphs">1996</text><text x="852.5" y="553.9" text-anchor="middle" textLength="34.3" lengthAdjust="spacingAndGlyphs">1998</text><text x="953.5" y="553.9" text-anchor="middle" textLength="34.3" lengthAdjust="spacingAndGlyphs">2000</text><text x="1054.5" y="553.9" text-anchor="middle" textLength="34.3" lengthAdjust="spacingAndGlyphs">2002</text><text x="34.2" y="534.6" text-anchor="end" textLength="7.6" lengthAdjust="spacingAndGlyphs">1</text><text x="34.2" y="424.6" text-anchor="end" textLength="7.6" lengthAdjust="spacingAndGlyphs">2</text><text x="34.2" y="315.6" text-anchor="end" textLength="7.6" lengthAdjust="spacingAndGlyphs">3</text><text x="34.2" y="205.6" text-anchor="end" textLength="7.6" lengthAdjust="spacingAndGlyphs">4</text><text x="34.2" y="96.6" text-anchor="end" textLength="7.6" lengthAdjust="spacingAndGlyphs">5</text>
</g>
<text class="t" x="573" y="572.8" text-anchor="middle" textLength="33.2" lengthAdjust="spacingAndGlyphs">Time</text>
<text class="t" transform="translate(15.0 277.6) rotate(-90)" text-anchor="middle" textLength="146.4" lengthAdjust="spacingAndGlyphs">Water Level (meters)</text>
<text class="ti" x="573.4" y="13.9" text-anchor="middle" textLength="428.6" lengthAdjust="spacingAndGlyphs">Water Levels and Tidal Datums at Puerto Armuelles</text>
<rect x="935.5" y="30.5" width="159.7" height="190.4" rx="2.4" ry="2.4" fill="#ffffff" fill-opacity="0.8" stroke="#cccccc" stroke-opacity="0.8" stroke-width="1.25"/>
<line x1="938.96" y1="41" x2="968.84" y2="41" stroke="#1f77b4" stroke-opacity="0.7" stroke-width="2.08"/><text class="t" x="979.3" y="46.0" textLength="88.6" lengthAdjust="spacingAndGlyphs">Water Levels</text>
<line x1="940" y1="62" x2="967.8" y2="62" stroke="#800080" stroke-width="2.08" stroke-dasharray="7.71 3.33"/><text class="t" x="979.3" y="67.0" textLength="44.2" lengthAdjust="spacingAndGlyphs">MHWS</text>
<line x1="940" y1="83" x2="967.8" y2="83" stroke="#000000" stroke-width="2.08" stroke-dasharray="7.71 3.33"/><text class="t" x="979.3" y="88.0" textLength="109.8" lengthAdjust="spacingAndGlyphs">Mean Daily Max</text>
<line x1="940" y1="104" x2="967.8" y2="104" stroke="#ff0000" stroke-width="2.08" stroke-dasharray="7.71 3.33"/><text class="t" x="979.3" y="109.0" textLength="35.4" lengthAdjust="spacingAndGlyphs">MHW</text>
<line x1="940" y1="125" x2="967.8" y2="125" stroke="#ffa500" stroke-width="2.08" stroke-dasharray="7.71 3.33"/><text class="t" x="979.3" y="130.0" textLength="27.8" lengthAdjust="spacingAndGlyphs">MSL</text>
<line x1="940" y1="146" x2="967.8" y2="146" stroke="#008000" stroke-width="2.08" stroke-dasharray="7.71 3.33"/><text class="t" x="979.3" y="151.0" textLength="27.6" lengthAdjust="spacingAndGlyphs">MTL</text>
<line x1="940" y1="167" x2="967.8" y2="167" stroke="#0000ff" stroke-width="2.08" stroke-dasharray="7.71 3.33"/><text class="t" x="979.3" y="172.0" textLength="30.2" lengthAdjust="spacingAndGlyphs">MLW</text>
<line x1="940" y1="188" x2="967.8" y2="188" stroke="#808080" stroke-width="2.08" stroke-dasharray="7.71 3.33"/><text class="t" x="979.3" y="193.0" textLength="105.7" lengthAdjust="spacingAndGlyphs">Mean Daily Min</text>
<line x1="940" y1="209" x2="967.8" y2="209" stroke="#ffc0cb" stroke-width="2.08" stroke-dasharray="7.71 3.33"/><text class="t" x="979.3" y="214.0" textLength="40.2" lengthAdjust="spacingAndGlyphs">MLWS</text>
</svg>
</body></html>
